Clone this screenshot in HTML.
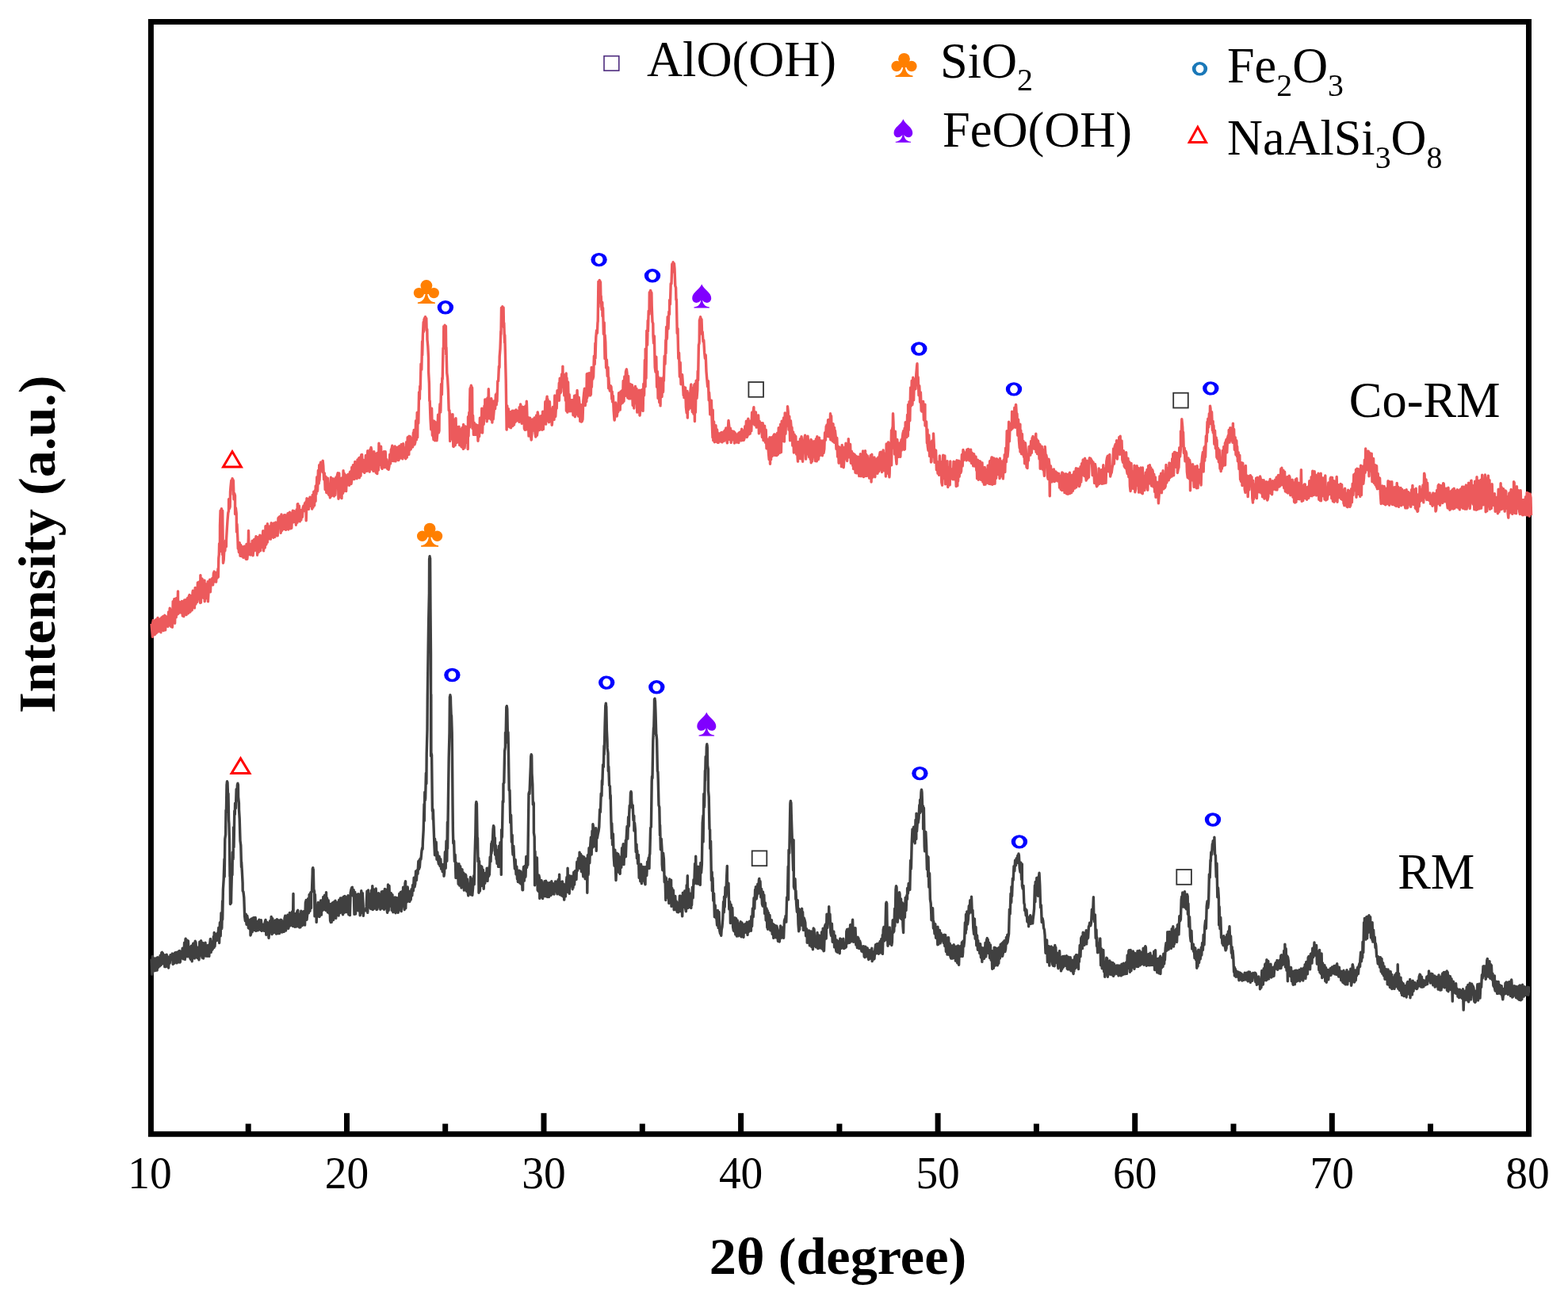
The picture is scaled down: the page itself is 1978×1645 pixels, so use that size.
<!DOCTYPE html>
<html><head><meta charset="utf-8"><style>
html,body{margin:0;padding:0;background:#fff;overflow:hidden;}
svg{display:block;}
text{font-family:"Liberation Serif","Times New Roman",serif;fill:#000;}
</style></head><body>
<svg width="1978" height="1645" viewBox="0 0 1978 1645">
<rect x="0" y="0" width="1978" height="1645" fill="#fff"/>
<rect x="190.4" y="27.5" width="1738.1" height="1403.2" fill="none" stroke="#000" stroke-width="7"/>
<line x1="437.5" y1="1404.2" x2="437.5" y2="1428" stroke="#000" stroke-width="7"/>
<line x1="686.0" y1="1404.2" x2="686.0" y2="1428" stroke="#000" stroke-width="7"/>
<line x1="934.6" y1="1404.2" x2="934.6" y2="1428" stroke="#000" stroke-width="7"/>
<line x1="1183.1" y1="1404.2" x2="1183.1" y2="1428" stroke="#000" stroke-width="7"/>
<line x1="1431.7" y1="1404.2" x2="1431.7" y2="1428" stroke="#000" stroke-width="7"/>
<line x1="1680.3" y1="1404.2" x2="1680.3" y2="1428" stroke="#000" stroke-width="7"/>
<line x1="313.2" y1="1417.6" x2="313.2" y2="1428" stroke="#000" stroke-width="7"/>
<line x1="561.7" y1="1417.6" x2="561.7" y2="1428" stroke="#000" stroke-width="7"/>
<line x1="810.3" y1="1417.6" x2="810.3" y2="1428" stroke="#000" stroke-width="7"/>
<line x1="1058.9" y1="1417.6" x2="1058.9" y2="1428" stroke="#000" stroke-width="7"/>
<line x1="1307.4" y1="1417.6" x2="1307.4" y2="1428" stroke="#000" stroke-width="7"/>
<line x1="1556.0" y1="1417.6" x2="1556.0" y2="1428" stroke="#000" stroke-width="7"/>
<line x1="1804.5" y1="1417.6" x2="1804.5" y2="1428" stroke="#000" stroke-width="7"/>
<path d="M191.0,1209.6 L191.8,1229.1 L192.5,1206.4 L192.6,1227.1 L193.4,1223.8 L194.2,1221.3 L195.0,1209.0 L195.8,1224.5 L196.6,1209.9 L197.4,1218.2 L197.8,1208.3 L198.2,1224.0 L199.0,1207.6 L199.8,1220.2 L200.6,1210.1 L201.4,1218.8 L202.2,1205.2 L203.0,1217.5 L203.8,1201.8 L204.4,1201.4 L204.6,1216.0 L205.4,1202.5 L206.2,1215.3 L207.0,1204.7 L207.8,1219.6 L208.6,1204.9 L209.4,1219.5 L210.2,1204.2 L211.0,1216.9 L211.8,1206.9 L212.6,1221.0 L213.4,1207.9 L214.2,1215.0 L215.0,1204.7 L215.8,1205.7 L216.6,1205.5 L217.4,1203.1 L218.2,1216.3 L219.0,1204.0 L219.8,1215.1 L220.6,1201.9 L220.8,1213.7 L221.4,1205.2 L222.2,1201.5 L223.0,1214.9 L223.8,1210.9 L224.6,1200.6 L225.4,1213.9 L226.2,1199.4 L227.0,1214.0 L227.4,1213.2 L227.8,1200.2 L228.6,1208.3 L229.4,1208.6 L230.2,1196.1 L231.0,1209.7 L231.8,1208.2 L232.6,1189.1 L233.4,1210.4 L234.0,1185.0 L234.2,1184.2 L235.0,1206.1 L235.8,1185.9 L236.6,1206.9 L237.4,1187.0 L238.2,1205.6 L239.0,1194.8 L239.8,1208.5 L240.6,1210.2 L241.4,1193.1 L242.2,1212.8 L243.0,1194.2 L243.8,1190.1 L244.6,1190.3 L245.4,1209.0 L246.2,1187.3 L247.0,1189.0 L247.8,1204.3 L248.6,1208.2 L249.4,1195.2 L250.2,1208.0 L251.0,1210.8 L251.8,1188.3 L252.6,1205.2 L253.4,1194.5 L253.6,1186.7 L254.2,1193.7 L255.0,1208.1 L255.8,1189.4 L256.6,1209.0 L257.4,1190.6 L258.2,1205.4 L259.0,1189.2 L259.8,1206.1 L260.6,1192.7 L261.4,1206.2 L261.8,1203.1 L262.2,1192.4 L263.0,1194.0 L263.8,1206.4 L264.6,1191.6 L265.4,1184.5 L266.2,1201.4 L267.0,1187.6 L267.8,1198.0 L268.6,1196.0 L269.4,1181.4 L270.0,1195.4 L270.2,1176.4 L271.0,1193.6 L271.8,1180.5 L272.6,1178.4 L273.4,1186.5 L274.2,1177.1 L275.0,1179.2 L275.8,1170.2 L276.6,1189.5 L277.4,1163.8 L278.2,1180.8 L279.0,1151.6 L279.8,1171.4 L280.6,1136.6 L280.7,1160.0 L281.4,1122.0 L282.2,1109.2 L283.0,1083.6 L283.2,1106.0 L283.8,1058.5 L284.6,1052.7 L285.0,1021.9 L285.4,1024.9 L286.0,989.5 L286.2,992.9 L286.2,988.1 L286.5,985.7 L286.8,988.0 L287.0,987.0 L287.8,1011.4 L288.0,1001.1 L288.6,1034.6 L288.9,1039.0 L289.4,1059.7 L290.0,1105.8 L290.2,1100.3 L290.5,1140.5 L290.8,1139.3 L291.0,1137.7 L291.2,1139.5 L291.5,1139.1 L291.8,1125.2 L292.6,1095.6 L293.0,1103.8 L293.4,1075.0 L294.2,1083.7 L294.5,1043.7 L295.0,1068.7 L295.8,1022.9 L296.3,1027.4 L296.6,1013.3 L297.4,1019.5 L298.2,995.4 L298.5,1003.7 L299.0,999.1 L299.4,989.7 L299.6,989.8 L299.8,994.2 L299.9,988.1 L300.1,989.4 L300.4,990.5 L300.6,1005.3 L301.4,1013.1 L301.5,1021.3 L302.2,1032.7 L302.9,1056.4 L303.0,1060.6 L303.8,1066.4 L304.5,1093.7 L304.6,1087.1 L305.4,1100.5 L306.1,1114.1 L306.2,1123.8 L307.0,1125.2 L307.8,1132.2 L308.6,1155.5 L309.4,1161.8 L310.2,1153.2 L311.0,1166.2 L311.8,1155.3 L312.6,1160.4 L313.4,1170.7 L314.2,1161.4 L315.0,1171.8 L315.8,1160.0 L316.0,1180.0 L316.6,1178.3 L317.4,1159.0 L318.2,1175.6 L319.0,1158.5 L319.8,1157.6 L320.6,1157.7 L321.4,1173.6 L322.2,1157.5 L323.0,1174.3 L323.8,1172.1 L324.2,1162.5 L324.6,1172.9 L325.4,1173.6 L326.2,1162.0 L327.0,1160.2 L327.8,1169.4 L328.6,1173.2 L329.4,1160.8 L330.2,1174.3 L331.0,1172.3 L331.8,1166.1 L332.4,1173.6 L332.6,1166.8 L333.4,1174.2 L334.2,1163.7 L335.0,1160.4 L335.8,1179.2 L336.6,1163.1 L337.4,1176.8 L338.2,1164.2 L339.0,1183.3 L339.8,1173.9 L340.6,1161.7 L341.4,1172.3 L342.2,1156.4 L343.0,1178.6 L343.8,1158.6 L344.6,1174.1 L345.4,1176.7 L346.2,1162.6 L347.0,1175.5 L347.2,1161.0 L347.8,1173.6 L348.6,1178.1 L349.4,1159.6 L350.2,1164.9 L351.0,1177.6 L351.8,1161.0 L352.6,1177.5 L353.4,1162.6 L353.7,1175.4 L354.2,1160.3 L355.0,1160.6 L355.8,1176.0 L356.6,1175.7 L357.4,1162.1 L358.2,1175.3 L359.0,1158.3 L359.8,1155.2 L360.6,1174.0 L361.4,1157.0 L362.2,1158.7 L363.0,1154.3 L363.8,1171.3 L364.6,1166.9 L365.4,1151.5 L366.2,1167.7 L367.0,1154.5 L367.8,1162.4 L368.6,1150.0 L369.4,1168.4 L370.0,1127.4 L370.2,1162.8 L371.0,1153.2 L371.8,1169.2 L372.6,1152.6 L373.4,1169.1 L374.2,1153.5 L375.0,1149.3 L375.8,1148.4 L376.6,1169.0 L377.4,1154.8 L377.9,1170.0 L378.2,1153.1 L379.0,1169.8 L379.8,1149.2 L380.6,1163.2 L381.4,1167.6 L382.2,1164.7 L383.0,1149.7 L383.8,1165.4 L384.6,1167.0 L385.4,1138.6 L386.2,1135.6 L387.0,1160.2 L387.7,1153.8 L387.8,1137.6 L388.6,1133.8 L389.4,1151.8 L390.2,1128.4 L391.0,1149.2 L391.8,1125.9 L392.5,1145.6 L392.6,1125.1 L393.4,1125.0 L394.2,1102.5 L394.3,1095.7 L394.6,1095.7 L394.8,1094.6 L395.0,1099.0 L395.1,1096.7 L395.3,1096.9 L395.8,1121.6 L396.6,1124.7 L397.0,1155.9 L397.4,1128.4 L398.2,1151.6 L399.0,1141.9 L399.2,1163.4 L399.8,1145.4 L400.6,1154.0 L401.4,1138.4 L402.2,1156.2 L403.0,1156.5 L403.8,1153.7 L404.6,1135.9 L405.4,1154.1 L406.2,1135.8 L407.0,1148.4 L407.8,1131.4 L408.6,1147.4 L409.4,1129.5 L410.2,1142.3 L411.0,1148.5 L411.5,1125.8 L411.8,1140.3 L412.6,1133.0 L413.4,1150.9 L414.2,1135.6 L415.0,1151.9 L415.8,1142.1 L416.6,1161.4 L417.3,1163.4 L417.4,1140.2 L418.2,1163.4 L419.0,1141.4 L419.8,1138.8 L420.6,1160.5 L421.4,1137.7 L422.2,1158.1 L423.0,1136.1 L423.8,1158.4 L424.6,1140.3 L425.4,1151.5 L426.2,1138.2 L427.0,1137.6 L427.1,1155.1 L427.8,1135.1 L428.6,1151.7 L429.4,1132.9 L430.2,1149.1 L431.0,1133.0 L431.8,1151.9 L432.6,1153.7 L433.4,1131.2 L434.2,1151.4 L435.0,1130.5 L435.8,1148.7 L436.1,1135.4 L436.6,1150.5 L437.4,1131.8 L438.2,1150.9 L439.0,1129.8 L439.8,1153.7 L440.6,1134.0 L441.4,1154.6 L442.2,1126.2 L443.0,1122.0 L443.8,1119.8 L444.4,1119.2 L444.6,1124.5 L445.4,1130.3 L446.2,1122.7 L447.0,1153.4 L447.8,1125.5 L448.6,1153.0 L449.4,1128.4 L450.2,1142.5 L451.0,1133.6 L451.7,1148.7 L451.8,1127.7 L452.6,1147.2 L453.4,1128.3 L454.2,1154.9 L455.0,1147.4 L455.8,1123.8 L456.6,1151.5 L457.4,1126.8 L458.2,1143.3 L458.3,1155.2 L459.0,1148.5 L459.8,1148.0 L460.6,1147.4 L461.4,1148.7 L462.2,1143.4 L463.0,1124.1 L463.8,1151.4 L464.6,1122.9 L465.4,1140.1 L466.2,1127.8 L467.0,1144.8 L467.8,1146.6 L468.6,1123.0 L469.4,1143.1 L469.8,1117.6 L470.2,1147.6 L471.0,1121.7 L471.8,1146.3 L472.6,1122.8 L473.4,1143.8 L474.2,1121.0 L475.0,1147.5 L475.8,1147.2 L476.6,1143.3 L477.4,1126.7 L478.2,1143.6 L479.0,1143.0 L479.6,1132.4 L479.8,1147.3 L480.6,1128.3 L481.4,1124.9 L482.2,1145.9 L483.0,1124.4 L483.8,1143.7 L484.6,1147.3 L485.4,1121.4 L486.2,1142.7 L487.0,1122.1 L487.8,1145.1 L488.6,1151.4 L489.4,1147.9 L489.5,1115.9 L490.2,1148.5 L491.0,1117.5 L491.8,1141.2 L492.6,1143.1 L493.4,1126.7 L494.2,1148.4 L495.0,1128.6 L495.8,1150.7 L496.6,1133.9 L497.4,1148.2 L498.2,1132.0 L499.0,1151.7 L499.3,1134.6 L499.8,1132.4 L500.6,1145.0 L501.4,1133.0 L502.2,1151.4 L503.0,1143.1 L503.8,1127.3 L504.6,1147.7 L505.4,1125.5 L506.2,1149.6 L507.0,1124.7 L507.8,1142.8 L508.6,1119.2 L509.4,1141.1 L510.2,1147.5 L511.0,1114.1 L511.6,1111.8 L511.8,1145.7 L512.6,1119.1 L513.4,1137.7 L514.2,1119.0 L515.0,1134.3 L515.8,1124.1 L516.6,1137.4 L517.4,1135.8 L517.6,1124.7 L518.2,1134.8 L519.0,1121.8 L519.8,1129.9 L520.6,1116.4 L521.4,1123.6 L522.2,1107.1 L523.0,1118.9 L523.8,1115.0 L524.6,1098.9 L525.4,1110.4 L526.2,1097.8 L527.0,1102.3 L527.8,1086.5 L528.6,1096.3 L529.1,1084.8 L529.4,1094.2 L530.2,1083.0 L531.0,1083.9 L531.8,1075.2 L532.1,1072.3 L532.4,1071.9 L532.6,1069.8 L532.9,1071.3 L533.1,1071.0 L533.4,1061.3 L534.2,1047.5 L535.0,1014.5 L535.3,1035.6 L535.8,999.3 L536.6,1009.0 L537.4,975.3 L537.9,988.5 L538.2,950.7 L539.0,920.6 L539.3,878.1 L539.8,843.5 L540.6,785.8 L541.4,748.4 L541.6,705.0 L541.9,703.6 L542.1,701.7 L542.2,709.0 L542.4,703.7 L542.6,704.6 L543.0,767.6 L543.5,825.3 L543.6,953.8 L543.8,876.1 L543.9,951.4 L544.1,949.9 L544.4,952.0 L544.6,952.0 L545.4,1023.1 L545.6,1022.4 L545.9,1020.4 L546.1,1021.9 L546.2,1033.6 L546.4,1021.7 L547.0,1040.6 L547.8,1062.8 L548.5,1078.7 L548.6,1058.3 L549.4,1076.5 L550.2,1062.3 L551.0,1084.3 L551.8,1075.0 L552.6,1085.1 L553.4,1090.0 L553.8,1080.2 L554.2,1080.8 L555.0,1092.5 L555.8,1083.7 L556.6,1096.1 L557.4,1090.3 L558.2,1099.6 L559.0,1091.0 L559.8,1092.8 L560.0,1105.2 L560.6,1101.0 L561.4,1074.7 L562.2,1095.3 L563.0,1061.0 L563.8,1086.2 L564.4,1037.3 L564.6,1070.4 L565.4,1011.2 L566.2,955.4 L567.0,924.1 L567.4,879.1 L567.6,878.8 L567.8,881.1 L567.9,876.7 L568.1,878.6 L568.4,879.0 L568.6,887.9 L569.4,909.3 L569.5,902.5 L570.2,924.8 L570.5,954.1 L571.0,1011.7 L571.4,1047.7 L571.8,1063.7 L572.6,1060.8 L573.4,1086.5 L574.2,1078.2 L575.0,1107.5 L575.8,1088.6 L576.6,1104.0 L577.4,1094.9 L578.2,1115.3 L579.0,1089.7 L579.8,1117.1 L580.6,1092.7 L581.4,1102.2 L582.0,1120.0 L582.2,1097.8 L583.0,1096.8 L583.8,1117.5 L584.6,1100.9 L585.4,1123.1 L586.2,1105.5 L587.0,1103.0 L587.8,1104.3 L588.6,1124.3 L589.4,1108.9 L590.2,1125.8 L590.8,1129.9 L591.0,1123.1 L591.8,1115.0 L592.6,1126.7 L593.4,1106.5 L594.2,1128.8 L595.0,1108.8 L595.8,1129.3 L596.6,1120.1 L597.4,1106.1 L597.9,1104.5 L598.2,1115.7 L599.0,1079.6 L599.5,1062.2 L599.8,1053.4 L600.4,1014.5 L600.6,1023.6 L600.6,1012.9 L600.9,1011.6 L601.1,1012.9 L601.4,1013.6 L602.2,1064.8 L602.5,1057.1 L603.0,1086.6 L603.8,1082.7 L604.0,1126.3 L604.6,1086.4 L605.4,1124.0 L606.2,1092.3 L607.0,1117.6 L607.8,1093.2 L608.6,1100.3 L609.4,1097.3 L610.2,1121.2 L611.0,1102.4 L611.8,1114.2 L612.6,1101.2 L613.4,1109.8 L614.2,1095.2 L615.0,1111.4 L615.8,1098.4 L616.6,1105.3 L617.3,1093.0 L617.4,1103.4 L618.2,1081.1 L619.0,1086.9 L619.8,1064.3 L620.0,1076.5 L620.6,1061.5 L620.8,1073.3 L621.4,1061.6 L622.1,1045.0 L622.2,1046.0 L622.4,1042.9 L622.6,1041.6 L622.9,1042.8 L623.0,1051.8 L623.1,1042.9 L623.8,1061.7 L624.4,1056.9 L624.6,1078.3 L625.4,1066.5 L626.1,1084.0 L626.2,1073.0 L627.0,1089.3 L627.8,1072.4 L628.6,1093.4 L629.4,1067.2 L630.2,1093.4 L631.0,1062.8 L631.8,1066.4 L632.3,1103.4 L632.6,1046.6 L633.4,1056.2 L634.2,1010.7 L634.9,1011.8 L635.0,988.6 L635.8,987.4 L636.6,947.6 L637.4,942.6 L637.5,924.4 L638.2,924.1 L638.8,891.8 L639.0,897.8 L639.0,892.1 L639.3,890.7 L639.5,892.6 L639.8,894.2 L640.6,937.1 L641.0,923.7 L641.4,944.5 L642.2,996.7 L642.8,996.6 L643.0,997.2 L643.8,1037.8 L644.6,1028.3 L645.4,1062.1 L646.2,1053.5 L646.4,1069.7 L647.0,1078.2 L647.8,1067.2 L648.6,1083.4 L649.4,1095.8 L650.2,1084.5 L651.0,1103.0 L651.8,1093.1 L652.5,1108.9 L652.6,1097.8 L653.4,1112.5 L654.2,1109.9 L655.0,1098.3 L655.8,1114.0 L656.6,1099.2 L657.4,1115.1 L658.2,1102.9 L659.0,1122.8 L659.6,1122.8 L659.8,1103.2 L660.6,1093.5 L661.4,1111.1 L662.2,1092.5 L663.0,1106.2 L663.8,1080.5 L664.6,1094.3 L665.4,1080.2 L665.8,1091.2 L666.2,1060.7 L667.0,1001.2 L667.2,1000.8 L667.5,999.2 L667.8,1000.6 L667.8,1001.7 L668.0,1001.1 L668.6,985.9 L669.4,966.5 L669.7,954.9 L670.0,953.4 L670.2,951.6 L670.5,953.0 L670.7,952.9 L671.0,975.5 L671.8,989.4 L672.3,1015.0 L672.5,1013.7 L672.6,1012.6 L672.8,1011.6 L673.0,1013.8 L673.3,1013.3 L673.4,1050.5 L674.2,1055.7 L674.6,1116.7 L675.0,1074.0 L675.8,1109.4 L676.6,1102.9 L677.4,1082.0 L678.2,1122.9 L679.0,1124.1 L679.8,1104.1 L680.6,1107.8 L680.8,1133.4 L681.4,1110.6 L682.2,1131.8 L683.0,1110.7 L683.8,1114.7 L684.6,1133.5 L685.4,1115.9 L686.2,1126.0 L687.0,1111.7 L687.8,1130.7 L688.6,1111.2 L689.4,1125.4 L690.2,1113.2 L690.6,1131.6 L691.0,1114.7 L691.8,1127.4 L692.6,1131.5 L693.4,1113.4 L694.2,1129.2 L695.0,1129.5 L695.8,1111.7 L696.6,1127.7 L697.4,1114.5 L698.2,1124.1 L699.0,1128.1 L699.4,1116.1 L699.8,1124.5 L700.6,1112.0 L701.4,1114.1 L702.2,1123.7 L703.0,1127.8 L703.8,1110.9 L704.6,1109.2 L705.4,1125.1 L705.6,1103.3 L706.2,1128.7 L707.0,1127.8 L707.8,1112.7 L708.6,1129.9 L709.4,1111.9 L710.2,1130.9 L711.0,1115.2 L711.7,1135.1 L711.8,1133.5 L712.6,1119.4 L713.4,1130.9 L714.2,1115.7 L715.0,1106.4 L715.8,1123.3 L716.1,1095.3 L716.6,1125.4 L717.4,1104.3 L718.2,1127.3 L719.0,1105.3 L719.8,1117.8 L720.6,1105.3 L721.4,1107.3 L722.2,1121.7 L722.3,1106.9 L723.0,1120.0 L723.8,1100.3 L724.6,1116.0 L725.4,1098.7 L726.2,1107.3 L727.0,1109.4 L727.8,1087.3 L728.6,1098.1 L729.4,1082.6 L730.2,1094.9 L731.0,1080.1 L731.1,1075.1 L731.8,1095.5 L732.6,1077.5 L733.4,1099.5 L734.2,1079.7 L735.0,1097.6 L735.8,1105.8 L736.6,1081.0 L737.4,1087.0 L738.2,1108.7 L739.0,1083.3 L739.8,1107.0 L740.6,1087.6 L740.8,1126.3 L741.4,1078.6 L742.2,1103.4 L743.0,1069.7 L743.8,1088.7 L744.6,1068.1 L745.4,1056.3 L746.2,1078.0 L747.0,1048.2 L747.8,1069.1 L747.9,1039.8 L748.6,1043.5 L749.4,1064.7 L750.2,1045.0 L751.0,1068.0 L751.8,1044.6 L752.3,1073.4 L752.6,1051.4 L753.4,1057.2 L754.2,1052.5 L755.0,1048.9 L755.8,1043.1 L756.6,1021.7 L756.7,1021.2 L757.4,1024.5 L758.2,1001.0 L759.0,1004.0 L759.4,984.8 L759.8,990.0 L760.6,964.6 L761.4,967.4 L762.0,940.8 L762.2,951.7 L763.0,917.5 L763.8,889.9 L764.0,889.7 L764.3,887.3 L764.5,889.2 L764.6,900.5 L764.8,891.1 L765.4,921.1 L766.0,933.6 L766.2,943.9 L767.0,949.9 L767.3,972.7 L767.8,967.0 L768.6,990.8 L769.4,991.6 L769.9,1007.8 L770.2,1003.3 L771.0,1037.8 L771.7,1057.8 L771.8,1038.6 L772.6,1065.7 L773.4,1052.0 L774.2,1080.7 L775.0,1092.2 L775.8,1072.1 L776.6,1097.4 L777.0,1110.5 L777.4,1101.0 L778.2,1076.1 L779.0,1100.0 L779.8,1077.5 L780.6,1081.3 L781.4,1100.9 L782.2,1102.3 L782.3,1094.5 L783.0,1081.0 L783.8,1094.3 L784.6,1069.6 L785.4,1073.8 L786.2,1064.8 L787.0,1090.6 L787.8,1069.1 L788.6,1080.6 L789.3,1060.0 L789.4,1080.7 L790.2,1056.9 L791.0,1042.5 L791.8,1058.1 L792.6,1030.7 L793.4,1042.2 L793.7,1026.6 L794.2,1016.4 L795.0,1015.4 L795.5,999.9 L795.8,1000.9 L795.8,1002.0 L796.0,998.4 L796.2,999.5 L796.5,1000.6 L796.6,1009.0 L797.4,1018.8 L798.2,1015.8 L799.0,1034.8 L799.8,1029.2 L799.9,1048.0 L800.6,1038.3 L801.4,1047.0 L802.2,1074.8 L803.0,1065.1 L803.4,1082.7 L803.8,1073.0 L804.6,1089.5 L805.4,1078.4 L806.2,1107.4 L807.0,1092.3 L807.8,1111.7 L808.6,1090.2 L809.4,1114.6 L810.2,1093.2 L811.0,1111.1 L811.8,1110.5 L812.6,1093.7 L813.4,1114.0 L814.0,1115.7 L814.2,1100.9 L815.0,1093.5 L815.8,1104.5 L816.6,1087.1 L817.4,1088.4 L818.2,1082.2 L819.0,1095.5 L819.3,1078.5 L819.8,1077.5 L820.6,1044.5 L821.4,1043.1 L822.2,985.7 L822.5,979.4 L823.0,981.6 L823.8,934.5 L824.5,917.9 L824.6,925.8 L825.4,893.1 L825.5,882.2 L825.8,883.3 L826.0,881.1 L826.2,884.5 L826.2,883.1 L826.5,885.0 L827.0,899.3 L827.8,928.1 L828.0,926.6 L828.6,933.1 L829.4,972.6 L829.9,973.7 L830.2,982.5 L831.0,1015.8 L831.8,1018.2 L832.5,1053.7 L832.6,1040.9 L833.4,1071.7 L834.2,1058.1 L835.0,1071.4 L835.2,1090.7 L835.8,1097.7 L836.6,1076.3 L837.4,1083.8 L838.2,1112.8 L839.0,1105.6 L839.8,1135.5 L840.5,1107.7 L840.6,1132.8 L841.4,1130.8 L842.2,1130.5 L843.0,1112.5 L843.8,1139.5 L844.6,1109.0 L845.4,1135.9 L846.2,1117.4 L846.6,1110.3 L847.0,1143.4 L847.8,1120.5 L848.6,1140.1 L849.4,1123.0 L850.2,1147.7 L851.0,1146.9 L851.8,1130.4 L852.6,1147.5 L853.2,1137.0 L853.4,1147.3 L854.2,1150.4 L855.0,1138.9 L855.8,1150.8 L856.6,1148.8 L857.4,1130.2 L858.2,1130.3 L859.0,1149.7 L859.8,1133.5 L860.6,1155.3 L860.7,1155.9 L861.4,1126.1 L862.2,1144.5 L863.0,1129.4 L863.8,1123.9 L864.6,1145.5 L865.4,1149.8 L866.2,1116.6 L867.0,1117.9 L867.3,1104.7 L867.8,1145.5 L868.6,1121.5 L869.4,1140.2 L870.2,1126.9 L871.0,1144.8 L871.8,1145.4 L872.0,1129.5 L872.6,1141.8 L873.4,1119.3 L874.2,1132.7 L875.0,1109.6 L875.8,1115.0 L876.6,1089.4 L877.4,1104.6 L877.7,1080.2 L878.2,1112.3 L879.0,1114.8 L879.8,1109.1 L880.6,1093.2 L881.4,1115.1 L882.2,1093.9 L883.0,1113.6 L883.3,1116.3 L883.8,1088.4 L884.6,1100.8 L885.4,1089.9 L886.2,1038.2 L887.0,1028.7 L887.1,1062.1 L887.8,1001.5 L888.6,1017.9 L889.4,972.0 L889.5,984.7 L890.2,954.4 L891.0,959.2 L891.3,942.2 L891.5,941.2 L891.8,938.8 L892.0,940.6 L892.3,942.8 L892.6,965.7 L893.4,970.6 L893.5,997.1 L894.2,1004.8 L895.0,1045.7 L895.6,1046.8 L895.8,1070.6 L896.6,1061.1 L897.4,1110.5 L898.2,1100.2 L898.4,1123.8 L899.0,1107.4 L899.8,1136.2 L900.6,1127.1 L901.4,1156.6 L902.2,1141.9 L903.0,1157.9 L903.8,1156.5 L904.6,1167.1 L905.4,1148.4 L906.2,1170.6 L907.0,1150.5 L907.8,1174.2 L908.6,1177.9 L909.4,1178.1 L909.7,1180.4 L910.2,1172.8 L911.0,1169.2 L911.8,1158.8 L912.6,1137.4 L913.4,1150.7 L913.5,1131.3 L914.2,1144.3 L915.0,1119.3 L915.8,1131.4 L916.6,1107.0 L917.3,1092.4 L917.4,1114.7 L918.2,1126.6 L919.0,1114.2 L919.8,1147.0 L920.6,1137.5 L921.0,1140.6 L921.4,1164.5 L922.2,1141.1 L923.0,1162.6 L923.8,1145.2 L924.6,1169.5 L925.4,1174.0 L926.2,1174.7 L927.0,1157.7 L927.8,1178.9 L928.6,1158.6 L929.4,1181.0 L930.2,1160.9 L931.0,1180.8 L931.8,1165.0 L932.6,1166.3 L933.4,1180.1 L934.2,1162.6 L935.0,1181.8 L935.8,1163.9 L936.6,1165.6 L937.4,1180.2 L938.0,1182.3 L938.2,1171.1 L939.0,1176.9 L939.8,1165.7 L940.6,1175.8 L941.4,1176.4 L942.2,1163.1 L943.0,1179.4 L943.8,1166.9 L944.6,1175.3 L945.4,1162.3 L946.2,1172.0 L947.0,1163.2 L947.4,1174.3 L947.8,1156.0 L948.6,1168.5 L949.4,1145.9 L950.2,1156.7 L951.0,1132.8 L951.8,1146.3 L952.6,1122.3 L953.1,1132.9 L953.4,1118.6 L954.2,1134.0 L955.0,1129.4 L955.8,1115.1 L956.6,1127.1 L957.4,1110.0 L957.8,1108.4 L958.2,1123.2 L959.0,1111.8 L959.8,1131.9 L960.6,1121.4 L961.4,1140.2 L962.2,1142.9 L962.5,1125.3 L963.0,1140.6 L963.8,1128.9 L964.6,1152.5 L965.4,1138.9 L966.2,1161.0 L967.0,1145.9 L967.8,1170.1 L968.2,1148.7 L968.6,1172.2 L969.4,1151.5 L970.2,1168.5 L971.0,1154.5 L971.8,1173.7 L972.6,1162.1 L973.4,1160.7 L974.2,1178.3 L975.0,1165.4 L975.7,1179.8 L975.8,1183.4 L976.6,1166.8 L977.4,1179.4 L978.2,1167.7 L979.0,1182.9 L979.8,1168.2 L980.6,1171.9 L981.4,1187.2 L982.2,1174.0 L983.0,1184.1 L983.2,1188.0 L983.8,1183.4 L984.6,1167.9 L985.4,1181.0 L986.2,1183.0 L987.0,1170.0 L987.8,1181.7 L988.6,1183.3 L989.4,1161.7 L990.2,1159.1 L990.8,1160.9 L991.0,1155.4 L991.8,1163.1 L992.6,1132.0 L993.4,1134.6 L994.2,1093.0 L994.5,1134.9 L995.0,1072.2 L995.8,1076.3 L996.6,1029.1 L996.9,1013.6 L997.1,1011.9 L997.4,1010.4 L997.6,1012.9 L997.9,1012.5 L998.2,1026.1 L999.0,1050.1 L999.8,1073.3 L1000.6,1097.9 L1001.1,1059.6 L1001.4,1118.7 L1002.2,1121.2 L1003.0,1108.7 L1003.8,1134.5 L1004.0,1123.6 L1004.6,1140.4 L1005.4,1150.4 L1006.2,1135.6 L1007.0,1165.6 L1007.7,1174.8 L1007.8,1146.5 L1008.6,1172.6 L1009.4,1148.9 L1010.2,1163.0 L1011.0,1147.2 L1011.6,1146.3 L1011.8,1167.4 L1012.6,1150.4 L1013.4,1173.4 L1014.2,1157.9 L1015.0,1160.4 L1015.8,1163.8 L1016.6,1180.7 L1017.4,1171.6 L1018.1,1173.6 L1018.2,1189.2 L1019.0,1177.4 L1019.8,1189.2 L1020.6,1174.0 L1021.4,1192.9 L1022.2,1177.3 L1023.0,1174.9 L1023.8,1194.5 L1024.6,1178.0 L1025.4,1197.8 L1026.2,1171.0 L1026.3,1171.7 L1027.0,1172.2 L1027.8,1188.7 L1028.6,1193.6 L1029.4,1194.8 L1030.2,1190.4 L1031.0,1176.5 L1031.8,1196.6 L1032.6,1179.7 L1033.4,1195.9 L1034.2,1180.4 L1034.5,1194.0 L1035.0,1183.1 L1035.8,1196.0 L1036.6,1175.6 L1037.4,1197.3 L1038.2,1171.1 L1039.0,1199.7 L1039.5,1199.5 L1039.8,1191.0 L1040.6,1168.1 L1041.4,1166.1 L1042.2,1184.0 L1043.0,1153.2 L1043.8,1170.3 L1044.6,1154.7 L1045.4,1163.5 L1045.7,1143.8 L1046.2,1162.5 L1047.0,1153.3 L1047.8,1176.4 L1048.6,1180.5 L1049.4,1165.2 L1050.2,1188.3 L1051.0,1177.9 L1051.8,1175.2 L1052.6,1194.9 L1053.4,1180.3 L1054.2,1194.9 L1055.0,1200.2 L1055.8,1185.9 L1056.6,1201.3 L1057.4,1200.1 L1058.2,1187.5 L1059.0,1189.2 L1059.2,1202.8 L1059.8,1184.0 L1060.6,1184.6 L1061.4,1196.4 L1062.2,1186.4 L1063.0,1193.0 L1063.8,1184.2 L1064.6,1196.6 L1065.4,1191.8 L1066.2,1195.7 L1067.0,1193.9 L1067.4,1194.5 L1067.8,1174.9 L1068.6,1172.4 L1069.4,1189.9 L1070.2,1172.0 L1071.0,1187.8 L1071.8,1189.3 L1072.6,1166.7 L1073.4,1187.9 L1074.2,1166.8 L1075.0,1166.8 L1075.6,1160.3 L1075.8,1166.2 L1076.6,1188.2 L1077.4,1170.8 L1078.2,1188.1 L1079.0,1170.6 L1079.8,1192.0 L1080.6,1182.5 L1081.4,1195.6 L1082.1,1182.3 L1082.2,1192.8 L1083.0,1183.7 L1083.8,1196.6 L1084.6,1186.9 L1085.4,1189.9 L1086.2,1197.0 L1087.0,1200.1 L1087.8,1194.3 L1088.6,1200.7 L1089.4,1193.6 L1090.2,1206.8 L1091.0,1207.6 L1091.8,1194.2 L1092.0,1207.0 L1092.6,1196.4 L1093.4,1205.3 L1094.2,1196.0 L1095.0,1207.4 L1095.8,1210.5 L1096.6,1198.7 L1097.4,1209.3 L1098.2,1198.7 L1099.0,1208.5 L1099.8,1196.3 L1100.2,1212.6 L1100.6,1200.1 L1101.4,1209.7 L1102.2,1210.1 L1103.0,1209.5 L1103.8,1198.1 L1104.6,1191.7 L1105.4,1202.9 L1106.2,1190.6 L1107.0,1200.5 L1107.8,1199.7 L1108.4,1203.2 L1108.6,1190.0 L1109.4,1200.2 L1110.2,1187.5 L1111.0,1201.8 L1111.8,1184.4 L1112.6,1199.2 L1113.3,1179.4 L1113.4,1203.4 L1114.2,1173.0 L1115.0,1169.5 L1115.8,1186.8 L1116.5,1171.4 L1116.6,1185.8 L1117.4,1151.5 L1117.7,1139.7 L1118.0,1139.2 L1118.2,1138.1 L1118.5,1139.8 L1118.7,1139.7 L1119.0,1161.1 L1119.8,1187.9 L1120.0,1193.3 L1120.6,1173.4 L1121.4,1184.8 L1122.2,1169.9 L1123.0,1190.8 L1123.8,1188.3 L1124.6,1176.3 L1124.8,1192.6 L1125.4,1188.5 L1126.2,1160.7 L1127.0,1176.1 L1127.8,1174.6 L1128.6,1146.2 L1128.8,1168.4 L1129.4,1151.1 L1130.0,1121.4 L1130.2,1126.5 L1130.2,1120.0 L1130.5,1117.6 L1130.8,1118.9 L1131.0,1118.9 L1131.8,1149.2 L1132.3,1163.3 L1132.6,1130.1 L1133.4,1150.6 L1134.2,1133.9 L1134.6,1125.8 L1135.0,1127.9 L1135.8,1158.4 L1136.6,1134.0 L1137.4,1159.7 L1138.2,1138.7 L1139.0,1168.2 L1139.6,1176.5 L1139.8,1162.5 L1140.6,1140.3 L1141.4,1157.3 L1142.2,1132.2 L1143.0,1148.5 L1143.8,1129.5 L1144.5,1134.2 L1144.6,1120.4 L1145.4,1127.1 L1146.2,1114.4 L1147.0,1120.0 L1147.8,1122.5 L1148.6,1085.5 L1149.4,1095.9 L1150.2,1063.0 L1151.0,1046.0 L1151.8,1061.2 L1152.6,1043.2 L1153.4,1053.7 L1154.2,1063.8 L1155.0,1034.3 L1155.8,1058.4 L1156.0,1026.3 L1156.6,1048.6 L1157.4,1036.7 L1158.2,1037.8 L1159.0,1032.3 L1159.8,1015.5 L1160.5,1025.6 L1160.6,1009.0 L1161.4,1014.8 L1162.0,998.8 L1162.2,1002.1 L1162.2,997.5 L1162.5,996.2 L1162.8,998.0 L1163.0,999.6 L1163.8,1024.1 L1164.5,1016.9 L1164.6,1045.8 L1165.4,1019.3 L1166.2,1067.7 L1166.6,1073.8 L1167.0,1072.6 L1167.8,1049.5 L1168.6,1066.6 L1169.4,1096.8 L1170.2,1080.3 L1170.7,1105.8 L1171.0,1081.1 L1171.8,1119.1 L1172.6,1101.8 L1173.4,1134.5 L1174.2,1139.5 L1174.8,1153.1 L1175.0,1160.7 L1175.8,1152.3 L1176.6,1145.8 L1177.4,1171.0 L1177.7,1162.2 L1178.2,1166.9 L1179.0,1177.8 L1179.8,1165.7 L1180.6,1183.2 L1181.4,1169.8 L1182.2,1175.9 L1182.8,1191.7 L1183.0,1169.2 L1183.8,1191.2 L1184.6,1173.5 L1185.4,1173.5 L1186.2,1189.8 L1187.0,1177.2 L1187.8,1186.8 L1188.6,1181.6 L1188.8,1181.4 L1189.1,1179.8 L1189.3,1182.2 L1189.4,1180.3 L1189.6,1182.1 L1190.2,1189.4 L1191.0,1179.3 L1191.8,1193.5 L1192.6,1179.5 L1193.4,1200.5 L1194.2,1188.3 L1195.0,1204.1 L1195.5,1183.0 L1195.8,1198.8 L1196.6,1182.8 L1197.4,1204.5 L1198.2,1190.2 L1199.0,1207.2 L1199.8,1209.1 L1200.6,1192.9 L1201.4,1209.1 L1202.2,1198.1 L1203.0,1205.3 L1203.2,1191.7 L1203.8,1208.4 L1204.6,1194.3 L1205.4,1212.1 L1206.2,1193.9 L1207.0,1211.5 L1207.8,1214.8 L1208.6,1193.0 L1209.4,1199.8 L1209.6,1217.2 L1210.2,1199.3 L1211.0,1196.1 L1211.8,1193.5 L1212.6,1206.3 L1213.4,1188.8 L1214.2,1206.5 L1214.7,1201.0 L1215.0,1187.0 L1215.8,1194.1 L1216.6,1186.6 L1217.4,1163.7 L1218.2,1177.3 L1218.5,1153.4 L1219.0,1172.7 L1219.8,1149.9 L1220.6,1166.1 L1221.4,1159.5 L1222.2,1144.3 L1222.3,1142.8 L1223.0,1152.0 L1223.8,1135.6 L1224.6,1148.3 L1225.4,1148.3 L1225.5,1131.3 L1226.2,1151.2 L1227.0,1148.4 L1227.8,1170.6 L1228.6,1178.2 L1229.3,1159.2 L1229.4,1159.1 L1230.2,1184.2 L1231.0,1169.4 L1231.8,1192.8 L1232.6,1180.0 L1233.4,1198.3 L1233.8,1186.5 L1234.2,1196.6 L1235.0,1190.7 L1235.8,1202.6 L1236.6,1190.6 L1237.4,1207.9 L1238.2,1195.2 L1238.9,1213.4 L1239.0,1196.4 L1239.8,1208.4 L1240.6,1196.0 L1241.4,1209.4 L1242.2,1206.3 L1243.0,1189.3 L1243.8,1206.7 L1244.6,1185.9 L1245.3,1183.6 L1245.4,1200.5 L1246.2,1185.1 L1247.0,1202.5 L1247.8,1189.2 L1248.6,1208.5 L1249.4,1192.0 L1250.2,1211.2 L1251.0,1199.4 L1251.7,1222.3 L1251.8,1221.8 L1252.6,1203.4 L1253.4,1221.3 L1254.2,1195.2 L1255.0,1218.2 L1255.8,1195.6 L1256.6,1211.7 L1257.4,1196.6 L1258.2,1217.9 L1259.0,1212.9 L1259.3,1195.9 L1259.8,1215.2 L1260.6,1195.0 L1261.4,1209.0 L1262.2,1191.4 L1263.0,1203.6 L1263.8,1190.0 L1264.6,1206.3 L1265.4,1202.0 L1265.7,1188.3 L1266.2,1200.5 L1267.0,1186.6 L1267.8,1200.5 L1268.6,1197.0 L1269.4,1182.5 L1270.2,1190.3 L1270.8,1179.3 L1271.0,1188.7 L1271.8,1182.8 L1272.6,1178.0 L1273.4,1147.1 L1274.2,1152.9 L1275.0,1127.2 L1275.8,1138.4 L1275.9,1118.8 L1276.6,1130.5 L1277.4,1108.3 L1278.2,1110.1 L1279.0,1092.7 L1279.8,1098.9 L1280.6,1085.3 L1281.4,1091.9 L1282.2,1082.6 L1283.0,1088.5 L1283.8,1079.2 L1284.6,1087.3 L1284.9,1077.0 L1285.4,1079.0 L1286.2,1094.7 L1287.0,1100.3 L1287.8,1088.2 L1288.6,1109.4 L1289.3,1089.9 L1289.4,1117.5 L1290.2,1121.1 L1291.0,1117.3 L1291.8,1139.0 L1292.5,1141.5 L1292.6,1148.4 L1293.4,1146.4 L1294.2,1154.9 L1295.0,1148.0 L1295.8,1162.4 L1296.6,1163.5 L1297.4,1157.6 L1297.6,1168.7 L1298.2,1158.3 L1299.0,1156.5 L1299.8,1154.7 L1300.6,1165.3 L1301.4,1157.2 L1302.2,1157.2 L1302.7,1164.9 L1303.0,1160.4 L1303.8,1154.3 L1304.6,1146.0 L1305.4,1117.0 L1305.9,1137.8 L1306.2,1112.5 L1307.0,1125.1 L1307.8,1107.4 L1308.6,1107.3 L1309.4,1130.3 L1310.2,1110.2 L1311.0,1101.3 L1311.8,1117.1 L1312.6,1144.8 L1313.4,1142.0 L1314.2,1163.4 L1315.0,1158.5 L1315.8,1161.7 L1316.6,1170.8 L1317.4,1172.6 L1318.1,1179.9 L1318.2,1183.0 L1319.0,1202.2 L1319.8,1189.6 L1320.6,1186.0 L1321.4,1213.6 L1322.2,1194.5 L1323.0,1209.9 L1323.2,1193.6 L1323.8,1218.1 L1324.6,1198.3 L1325.4,1210.8 L1326.2,1193.9 L1327.0,1210.4 L1327.8,1216.6 L1328.6,1218.3 L1329.4,1195.1 L1330.2,1218.8 L1330.8,1192.5 L1331.0,1199.6 L1331.8,1195.2 L1332.6,1214.3 L1333.4,1202.1 L1334.2,1216.4 L1335.0,1221.8 L1335.8,1203.6 L1336.6,1199.7 L1337.4,1215.5 L1338.2,1207.5 L1338.5,1224.9 L1339.0,1221.4 L1339.8,1222.5 L1340.6,1206.5 L1341.4,1220.0 L1342.2,1216.5 L1342.7,1206.1 L1343.0,1215.1 L1343.8,1207.5 L1344.6,1218.4 L1345.4,1205.8 L1346.2,1221.9 L1347.0,1222.6 L1347.8,1207.1 L1348.6,1222.8 L1349.4,1219.5 L1350.2,1207.7 L1351.0,1224.7 L1351.8,1210.9 L1352.6,1224.9 L1353.4,1225.1 L1354.1,1228.5 L1354.2,1210.9 L1355.0,1224.9 L1355.8,1206.6 L1356.6,1221.4 L1357.4,1204.7 L1358.2,1204.8 L1359.0,1220.1 L1359.8,1205.8 L1360.5,1222.5 L1360.6,1204.6 L1361.4,1213.3 L1362.2,1192.4 L1363.0,1206.8 L1363.8,1183.3 L1364.4,1195.5 L1364.6,1181.4 L1365.4,1196.6 L1366.2,1176.2 L1367.0,1177.8 L1367.8,1192.3 L1368.6,1176.9 L1369.4,1189.0 L1370.2,1173.6 L1370.7,1190.9 L1371.0,1177.1 L1371.8,1184.0 L1372.6,1183.1 L1373.4,1168.9 L1374.2,1167.2 L1374.6,1164.3 L1375.0,1166.1 L1375.8,1167.7 L1376.6,1163.5 L1377.4,1147.3 L1378.2,1158.9 L1379.0,1141.5 L1379.4,1131.7 L1379.8,1154.0 L1380.6,1162.7 L1381.4,1153.9 L1382.2,1183.4 L1383.0,1172.9 L1383.5,1193.5 L1383.8,1182.7 L1384.6,1201.8 L1385.4,1200.3 L1386.2,1189.7 L1387.0,1201.1 L1387.8,1183.9 L1388.6,1217.7 L1389.4,1196.7 L1390.2,1221.7 L1391.0,1218.2 L1391.8,1198.5 L1392.6,1225.8 L1393.4,1213.2 L1393.7,1232.3 L1394.2,1225.1 L1395.0,1229.5 L1395.8,1208.3 L1396.6,1209.1 L1397.4,1232.2 L1398.2,1216.2 L1399.0,1227.4 L1399.8,1212.0 L1400.6,1229.2 L1401.4,1213.6 L1402.2,1226.8 L1402.6,1229.8 L1403.0,1224.6 L1403.8,1214.4 L1404.6,1231.3 L1405.4,1216.0 L1406.2,1229.0 L1407.0,1218.5 L1407.8,1225.8 L1408.6,1218.0 L1409.4,1228.5 L1410.2,1218.0 L1411.0,1230.9 L1411.6,1218.6 L1411.8,1218.3 L1412.6,1218.3 L1413.4,1220.7 L1414.2,1230.9 L1415.0,1216.2 L1415.8,1229.7 L1416.6,1229.4 L1417.4,1215.3 L1418.2,1217.6 L1419.0,1228.7 L1419.2,1217.3 L1419.8,1224.6 L1420.6,1213.9 L1421.4,1228.4 L1422.2,1204.9 L1423.0,1221.3 L1423.8,1199.7 L1424.3,1198.7 L1424.6,1203.5 L1425.4,1226.2 L1426.2,1198.4 L1427.0,1224.5 L1427.8,1200.8 L1428.6,1220.3 L1429.4,1199.9 L1430.2,1205.4 L1431.0,1222.3 L1431.8,1202.5 L1432.6,1203.7 L1433.3,1217.8 L1433.4,1203.7 L1434.2,1219.4 L1435.0,1199.6 L1435.8,1219.5 L1436.6,1215.2 L1437.4,1199.1 L1438.2,1217.9 L1439.0,1201.0 L1439.8,1216.4 L1440.6,1202.0 L1441.4,1213.0 L1442.2,1196.2 L1443.0,1217.3 L1443.8,1210.3 L1444.6,1196.8 L1444.8,1193.6 L1445.4,1195.2 L1446.2,1218.3 L1447.0,1215.5 L1447.8,1217.2 L1448.6,1203.6 L1449.4,1217.7 L1450.2,1217.3 L1451.0,1202.2 L1451.8,1217.6 L1452.4,1205.6 L1452.6,1217.4 L1453.4,1217.1 L1454.2,1207.8 L1455.0,1217.5 L1455.8,1200.2 L1456.6,1223.5 L1457.4,1206.9 L1457.5,1198.7 L1458.2,1223.6 L1459.0,1209.4 L1459.8,1226.9 L1460.6,1221.1 L1461.4,1209.2 L1462.2,1227.9 L1463.0,1208.9 L1463.8,1206.3 L1463.9,1228.5 L1464.6,1209.0 L1465.4,1220.8 L1466.2,1208.7 L1467.0,1219.4 L1467.8,1203.1 L1468.6,1215.8 L1469.0,1208.2 L1469.4,1211.1 L1470.2,1195.9 L1471.0,1189.6 L1471.8,1199.2 L1472.6,1194.0 L1472.8,1175.6 L1473.4,1180.9 L1474.2,1197.8 L1475.0,1175.5 L1475.8,1194.2 L1476.6,1193.3 L1477.4,1196.4 L1478.2,1171.6 L1479.0,1192.4 L1479.8,1168.7 L1480.5,1194.1 L1480.6,1173.6 L1481.4,1190.8 L1482.2,1173.8 L1483.0,1184.1 L1483.8,1171.6 L1484.6,1188.4 L1485.4,1166.6 L1486.2,1179.0 L1486.9,1165.3 L1487.0,1178.9 L1487.8,1155.7 L1488.6,1161.7 L1489.4,1159.9 L1490.2,1135.0 L1490.7,1131.2 L1491.0,1141.6 L1491.8,1125.9 L1492.6,1144.0 L1493.4,1126.5 L1494.2,1143.2 L1494.5,1124.7 L1495.0,1145.0 L1495.8,1129.0 L1496.6,1146.9 L1497.4,1128.1 L1498.2,1130.8 L1498.4,1153.3 L1499.0,1139.9 L1499.8,1169.0 L1500.6,1156.6 L1501.4,1180.8 L1502.2,1187.3 L1503.0,1174.3 L1503.8,1197.1 L1504.6,1196.6 L1505.4,1191.2 L1505.6,1200.1 L1506.2,1194.9 L1507.0,1208.6 L1507.8,1195.9 L1508.6,1210.7 L1509.4,1203.9 L1509.8,1221.2 L1510.2,1200.3 L1511.0,1219.0 L1511.8,1198.2 L1512.6,1214.5 L1513.4,1201.7 L1514.2,1210.0 L1515.0,1198.2 L1515.4,1194.9 L1515.8,1205.0 L1516.6,1189.5 L1517.4,1198.4 L1518.2,1179.1 L1519.0,1191.9 L1519.6,1173.9 L1519.8,1168.6 L1520.6,1161.4 L1521.4,1171.3 L1522.2,1143.1 L1523.0,1137.0 L1523.8,1145.4 L1524.6,1137.2 L1525.4,1102.9 L1526.2,1107.3 L1527.0,1084.9 L1527.3,1086.8 L1527.8,1075.0 L1528.6,1078.1 L1529.4,1064.7 L1529.5,1070.7 L1530.2,1060.8 L1531.0,1066.2 L1531.8,1065.7 L1531.9,1056.2 L1532.6,1077.6 L1533.4,1079.2 L1534.2,1106.1 L1535.0,1089.3 L1535.8,1131.8 L1536.6,1120.0 L1537.4,1132.8 L1537.7,1166.9 L1538.2,1143.8 L1539.0,1171.6 L1539.8,1157.5 L1540.6,1182.9 L1541.4,1181.1 L1541.9,1190.2 L1542.2,1181.4 L1543.0,1192.5 L1543.8,1180.8 L1544.6,1184.2 L1545.4,1194.8 L1546.1,1198.9 L1546.2,1182.4 L1547.0,1197.2 L1547.8,1179.0 L1548.6,1191.5 L1549.4,1174.9 L1550.2,1183.3 L1551.0,1168.7 L1551.8,1190.6 L1552.6,1180.9 L1553.4,1202.2 L1554.2,1194.6 L1554.5,1208.3 L1555.0,1199.0 L1555.8,1207.7 L1556.6,1226.2 L1557.3,1220.3 L1557.4,1230.9 L1558.2,1222.1 L1559.0,1232.2 L1559.8,1224.9 L1560.6,1226.6 L1561.4,1232.3 L1562.2,1226.2 L1562.9,1236.1 L1563.0,1236.7 L1563.8,1227.1 L1564.6,1227.2 L1565.4,1235.8 L1566.2,1228.4 L1567.0,1237.0 L1567.8,1235.3 L1568.6,1229.8 L1569.4,1236.2 L1570.2,1227.3 L1571.0,1233.0 L1571.8,1235.9 L1572.6,1227.2 L1573.4,1235.0 L1574.1,1228.9 L1574.2,1237.9 L1575.0,1225.9 L1575.8,1237.0 L1576.6,1226.2 L1577.4,1239.3 L1578.2,1228.3 L1579.0,1229.0 L1579.8,1237.3 L1580.6,1227.4 L1581.4,1230.9 L1582.2,1231.8 L1583.0,1227.2 L1583.8,1238.7 L1583.9,1227.6 L1584.6,1230.1 L1585.4,1242.3 L1586.2,1233.9 L1587.0,1240.2 L1587.8,1232.0 L1588.6,1241.7 L1589.4,1235.8 L1589.5,1247.8 L1590.2,1243.8 L1591.0,1245.8 L1591.8,1224.5 L1592.6,1240.4 L1593.4,1241.9 L1594.2,1221.6 L1595.0,1236.8 L1595.8,1216.4 L1596.6,1215.6 L1597.4,1236.8 L1597.9,1210.6 L1598.2,1231.1 L1599.0,1235.3 L1599.8,1212.4 L1600.6,1234.9 L1601.4,1216.6 L1602.2,1230.9 L1603.0,1216.3 L1603.8,1233.0 L1604.6,1221.8 L1605.4,1231.8 L1606.2,1220.1 L1607.0,1231.3 L1607.8,1220.9 L1608.6,1216.5 L1609.4,1214.4 L1610.2,1222.1 L1611.0,1211.4 L1611.8,1223.4 L1612.6,1213.4 L1613.4,1220.7 L1614.2,1211.2 L1615.0,1221.6 L1615.8,1205.5 L1616.0,1221.4 L1616.6,1204.7 L1617.4,1217.7 L1618.2,1205.0 L1619.0,1213.6 L1619.8,1199.1 L1620.6,1216.9 L1620.9,1191.1 L1621.4,1219.9 L1622.2,1196.7 L1623.0,1224.3 L1623.8,1205.9 L1624.4,1237.7 L1624.6,1207.5 L1625.4,1212.8 L1626.2,1230.2 L1627.0,1220.1 L1627.8,1231.6 L1628.6,1220.5 L1629.4,1237.7 L1630.2,1225.2 L1631.0,1241.4 L1631.4,1242.2 L1631.8,1240.9 L1632.6,1225.0 L1633.4,1241.7 L1634.2,1224.2 L1635.0,1238.3 L1635.8,1224.3 L1636.6,1237.5 L1637.4,1226.5 L1638.2,1235.5 L1638.4,1224.8 L1639.0,1223.6 L1639.8,1237.7 L1640.6,1225.7 L1641.4,1222.0 L1642.2,1235.6 L1643.0,1223.6 L1643.8,1237.0 L1644.6,1221.0 L1645.4,1233.0 L1646.2,1216.6 L1647.0,1234.4 L1647.8,1213.4 L1648.6,1216.1 L1649.4,1228.7 L1650.2,1208.0 L1651.0,1206.6 L1651.8,1222.3 L1652.4,1208.5 L1652.6,1222.9 L1653.4,1203.6 L1654.2,1202.9 L1655.0,1215.1 L1655.8,1196.1 L1656.6,1207.5 L1657.4,1204.4 L1658.0,1189.0 L1658.2,1203.6 L1659.0,1194.3 L1659.8,1205.2 L1660.6,1192.5 L1661.4,1216.1 L1662.2,1200.5 L1663.0,1200.2 L1663.8,1223.6 L1664.6,1198.4 L1665.0,1226.8 L1665.4,1204.3 L1666.2,1228.2 L1667.0,1226.5 L1667.1,1202.9 L1667.8,1233.6 L1668.6,1215.0 L1669.4,1230.6 L1670.2,1231.9 L1671.0,1217.8 L1671.8,1237.7 L1672.6,1220.8 L1673.3,1239.2 L1673.4,1224.8 L1674.2,1236.0 L1675.0,1223.4 L1675.8,1235.8 L1676.6,1224.2 L1677.4,1228.7 L1678.2,1221.6 L1679.0,1230.4 L1679.8,1220.7 L1680.0,1221.9 L1680.2,1222.2 L1680.5,1219.9 L1680.6,1227.8 L1680.8,1222.1 L1681.0,1223.6 L1681.4,1220.0 L1682.2,1227.9 L1683.0,1218.5 L1683.8,1228.8 L1684.6,1218.3 L1685.4,1229.2 L1686.2,1229.2 L1686.7,1215.7 L1687.0,1229.5 L1687.8,1219.8 L1688.6,1232.0 L1689.4,1220.2 L1690.2,1232.1 L1691.0,1224.9 L1691.8,1236.7 L1692.6,1225.5 L1693.4,1226.9 L1693.9,1239.2 L1694.2,1236.4 L1695.0,1224.3 L1695.8,1240.7 L1696.6,1226.5 L1697.4,1241.9 L1698.2,1240.4 L1699.0,1223.6 L1699.8,1241.9 L1700.6,1228.0 L1701.2,1226.7 L1701.4,1236.7 L1702.2,1225.8 L1703.0,1237.4 L1703.8,1222.1 L1704.6,1243.3 L1705.4,1238.7 L1706.2,1216.9 L1706.3,1216.8 L1707.0,1220.3 L1707.8,1238.3 L1708.6,1239.0 L1709.4,1223.9 L1710.2,1236.7 L1711.0,1225.1 L1711.5,1230.7 L1711.8,1223.8 L1712.6,1220.6 L1713.4,1228.5 L1714.2,1218.5 L1715.0,1215.4 L1715.6,1219.5 L1715.8,1211.9 L1716.6,1201.3 L1717.4,1212.8 L1718.2,1204.4 L1718.7,1208.0 L1719.0,1188.3 L1719.8,1201.5 L1720.6,1163.8 L1721.3,1177.3 L1721.4,1158.5 L1722.2,1181.9 L1723.0,1185.1 L1723.8,1156.7 L1724.6,1183.7 L1725.4,1156.1 L1726.2,1176.3 L1727.0,1154.8 L1727.8,1175.4 L1728.6,1156.6 L1729.4,1182.9 L1730.2,1165.2 L1731.0,1185.6 L1731.1,1163.6 L1731.8,1188.1 L1732.6,1173.1 L1733.4,1186.8 L1734.2,1182.1 L1735.0,1195.5 L1735.3,1190.1 L1735.8,1193.3 L1736.6,1206.7 L1737.4,1207.7 L1738.2,1215.7 L1738.4,1206.8 L1739.0,1216.2 L1739.8,1207.6 L1740.6,1220.1 L1741.4,1207.8 L1742.2,1225.7 L1743.0,1209.5 L1743.8,1228.2 L1744.6,1214.6 L1745.4,1230.6 L1746.2,1219.0 L1747.0,1235.2 L1747.8,1222.4 L1748.6,1223.4 L1749.4,1235.9 L1749.7,1223.0 L1750.2,1241.8 L1751.0,1223.0 L1751.8,1242.2 L1752.6,1225.2 L1753.4,1245.5 L1754.2,1225.8 L1755.0,1246.2 L1755.8,1229.5 L1755.9,1247.5 L1756.6,1232.5 L1757.4,1246.8 L1758.2,1235.2 L1759.0,1247.3 L1759.8,1229.8 L1760.6,1244.8 L1761.4,1227.8 L1762.2,1231.0 L1763.0,1240.1 L1763.2,1216.8 L1763.8,1247.2 L1764.6,1228.3 L1765.4,1249.2 L1766.2,1247.1 L1767.0,1233.1 L1767.8,1252.9 L1768.3,1238.8 L1768.6,1255.4 L1769.4,1241.5 L1770.2,1240.7 L1771.0,1256.6 L1771.8,1244.6 L1772.6,1255.0 L1773.4,1243.3 L1773.5,1254.6 L1774.2,1258.0 L1775.0,1240.4 L1775.8,1238.6 L1776.6,1245.0 L1777.4,1254.0 L1778.2,1252.4 L1778.7,1235.4 L1779.0,1258.8 L1779.8,1237.9 L1780.6,1241.6 L1781.4,1254.9 L1782.2,1237.2 L1783.0,1250.4 L1783.8,1241.3 L1784.4,1242.6 L1784.6,1246.8 L1784.7,1241.1 L1784.9,1239.5 L1785.2,1241.5 L1785.4,1243.0 L1786.2,1241.3 L1787.0,1247.5 L1787.8,1247.0 L1788.6,1237.3 L1789.4,1244.3 L1790.2,1232.0 L1791.0,1229.8 L1791.1,1229.2 L1791.8,1230.0 L1792.6,1245.0 L1793.4,1232.2 L1794.2,1245.2 L1795.0,1236.1 L1795.8,1244.8 L1796.6,1237.2 L1796.8,1241.4 L1797.0,1239.9 L1797.3,1238.5 L1797.4,1239.0 L1797.5,1239.9 L1797.8,1240.7 L1798.2,1242.6 L1799.0,1237.3 L1799.8,1232.2 L1800.6,1241.5 L1801.4,1230.9 L1802.2,1236.9 L1802.5,1225.0 L1803.0,1236.8 L1803.8,1230.0 L1804.6,1240.1 L1805.4,1228.2 L1806.2,1239.4 L1807.0,1228.6 L1807.8,1242.9 L1808.6,1234.3 L1809.4,1241.7 L1809.7,1231.0 L1810.2,1245.1 L1811.0,1232.9 L1811.8,1232.2 L1812.6,1244.1 L1813.4,1232.8 L1814.2,1248.1 L1815.0,1229.9 L1815.8,1247.6 L1816.6,1232.6 L1816.9,1249.1 L1817.4,1236.2 L1818.2,1248.7 L1819.0,1231.1 L1819.8,1228.0 L1820.6,1244.8 L1821.4,1226.4 L1822.2,1245.9 L1823.0,1226.5 L1823.8,1243.1 L1824.6,1229.8 L1825.2,1225.0 L1825.4,1249.3 L1826.2,1226.5 L1827.0,1250.7 L1827.8,1231.0 L1828.6,1247.3 L1829.4,1231.6 L1830.2,1248.6 L1831.0,1234.6 L1831.8,1244.6 L1832.3,1263.1 L1832.6,1248.5 L1833.4,1238.2 L1834.2,1248.4 L1835.0,1250.5 L1835.8,1252.7 L1836.6,1240.6 L1837.4,1253.6 L1838.2,1247.3 L1839.0,1257.1 L1839.6,1248.7 L1839.8,1257.3 L1840.6,1258.5 L1841.4,1248.1 L1842.2,1257.7 L1843.0,1249.8 L1843.8,1258.7 L1844.6,1259.4 L1845.4,1247.8 L1846.2,1274.1 L1847.0,1250.2 L1847.8,1261.9 L1848.6,1249.9 L1849.4,1258.8 L1850.2,1245.3 L1851.0,1261.9 L1851.8,1242.5 L1852.6,1263.9 L1853.4,1259.0 L1854.2,1240.3 L1855.0,1246.4 L1855.8,1260.9 L1856.6,1241.2 L1857.4,1243.5 L1858.2,1244.3 L1859.0,1246.5 L1859.8,1263.5 L1860.6,1249.9 L1860.7,1264.6 L1861.4,1263.6 L1862.2,1250.6 L1863.0,1258.8 L1863.8,1241.8 L1864.6,1262.0 L1865.4,1247.1 L1866.2,1241.1 L1867.0,1259.1 L1867.3,1253.1 L1867.8,1241.9 L1868.6,1245.3 L1869.4,1229.8 L1870.2,1234.2 L1871.0,1219.1 L1871.8,1218.7 L1872.6,1230.8 L1873.4,1219.0 L1874.2,1235.3 L1875.0,1227.0 L1875.8,1211.4 L1876.4,1209.6 L1876.6,1227.8 L1877.4,1232.1 L1878.2,1213.2 L1879.0,1212.8 L1879.8,1234.2 L1880.6,1216.8 L1881.2,1231.9 L1881.4,1217.7 L1882.2,1235.9 L1883.0,1228.3 L1883.8,1243.2 L1884.6,1244.9 L1885.4,1230.9 L1885.5,1246.6 L1886.2,1250.0 L1887.0,1250.1 L1887.8,1238.3 L1888.6,1253.3 L1889.4,1253.3 L1890.2,1238.4 L1890.6,1251.3 L1891.0,1253.0 L1891.8,1242.4 L1892.6,1253.0 L1893.4,1254.1 L1894.2,1243.6 L1895.0,1256.4 L1895.8,1260.9 L1896.6,1253.3 L1897.4,1247.2 L1898.2,1254.0 L1899.0,1240.2 L1899.8,1253.3 L1900.1,1238.9 L1900.6,1251.4 L1901.4,1240.1 L1902.2,1254.5 L1903.0,1239.0 L1903.8,1253.8 L1904.6,1238.5 L1905.4,1256.3 L1906.2,1240.6 L1906.7,1235.9 L1907.0,1240.2 L1907.8,1258.1 L1908.6,1257.3 L1909.4,1255.7 L1910.2,1243.8 L1911.0,1252.8 L1911.8,1244.4 L1912.5,1258.5 L1912.6,1244.4 L1913.4,1258.8 L1914.2,1245.9 L1915.0,1260.1 L1915.8,1244.0 L1916.6,1261.3 L1917.4,1242.9 L1918.2,1259.6 L1918.4,1261.7 L1919.0,1261.0 L1919.8,1260.7 L1920.6,1242.3 L1921.4,1255.0 L1922.2,1257.1 L1923.0,1244.6 L1923.5,1253.5 L1923.8,1245.3 L1924.6,1255.3 L1925.4,1254.1 L1926.2,1253.2 L1927.0,1245.2 L1927.8,1255.3 L1928.6,1245.8 L1929.0,1252.7" fill="none" stroke="#404040" stroke-width="3.4" stroke-linejoin="round"/>
<path d="M191.0,786.9 L191.8,795.5 L192.5,803.3 L192.6,786.3 L193.4,782.6 L194.2,798.4 L195.0,800.6 L195.8,799.9 L196.6,781.7 L197.4,798.5 L198.2,783.1 L199.0,779.4 L199.8,796.8 L200.6,785.5 L201.4,794.7 L202.2,780.8 L203.0,797.7 L203.8,779.0 L204.6,794.1 L205.4,781.1 L205.5,777.7 L206.2,795.6 L207.0,778.7 L207.8,776.3 L208.6,794.8 L209.4,777.6 L210.2,789.5 L211.0,778.3 L211.8,790.4 L212.6,771.9 L212.8,788.8 L213.4,788.8 L214.2,767.2 L215.0,784.5 L215.8,790.6 L216.6,769.2 L217.4,791.2 L218.2,758.6 L219.0,760.2 L219.4,780.6 L219.8,755.6 L220.6,786.3 L221.4,755.2 L222.2,778.7 L223.0,754.4 L223.8,775.0 L224.5,746.0 L224.6,774.4 L225.4,773.5 L226.2,759.2 L227.0,771.6 L227.8,760.0 L228.6,773.1 L229.4,758.4 L230.2,760.8 L230.3,776.9 L231.0,765.6 L231.8,777.6 L232.6,757.0 L233.4,774.8 L234.2,756.7 L235.0,775.6 L235.8,756.3 L236.1,774.3 L236.6,754.4 L237.4,773.8 L238.2,752.6 L239.0,750.5 L239.8,772.1 L240.6,770.2 L241.4,751.4 L242.2,769.8 L243.0,747.4 L243.4,745.1 L243.8,766.4 L244.6,745.4 L245.4,767.0 L246.2,741.4 L247.0,762.0 L247.8,743.3 L248.6,759.5 L249.4,734.9 L250.2,751.9 L251.0,734.3 L251.8,754.7 L252.6,760.5 L252.9,725.6 L253.4,760.1 L254.2,734.5 L255.0,730.2 L255.8,735.5 L256.6,754.2 L257.4,734.9 L258.0,732.2 L258.2,758.7 L259.0,738.9 L259.8,753.0 L260.6,736.6 L261.4,755.2 L262.2,733.7 L262.4,758.8 L263.0,747.8 L263.8,745.5 L264.6,731.1 L265.4,746.7 L266.2,730.9 L266.8,735.9 L267.0,738.1 L267.8,729.5 L268.6,737.9 L269.4,723.3 L270.2,721.0 L271.0,733.7 L271.8,724.0 L272.6,734.1 L273.4,721.9 L274.2,729.1 L275.0,717.4 L275.3,727.9 L275.8,704.0 L276.3,699.6 L276.6,685.8 L277.4,695.7 L277.5,663.2 L278.1,644.1 L278.2,677.7 L278.8,643.5 L279.0,648.3 L279.4,641.7 L279.8,650.2 L280.1,644.1 L280.5,699.5 L280.6,667.1 L280.7,644.1 L281.4,705.7 L281.5,710.3 L282.2,706.4 L283.0,691.2 L283.5,688.3 L283.8,695.0 L284.6,681.9 L285.4,689.6 L285.5,681.1 L286.2,668.9 L287.0,656.5 L287.8,647.0 L288.5,644.6 L288.6,629.7 L289.4,641.6 L290.2,639.2 L290.5,620.3 L291.0,613.9 L291.8,606.2 L292.4,605.6 L292.6,607.4 L293.1,603.7 L293.4,606.6 L293.8,605.0 L294.2,623.8 L294.4,606.2 L295.0,629.9 L295.8,622.8 L296.5,625.2 L296.6,648.6 L297.4,640.6 L298.2,647.5 L298.5,671.1 L299.0,661.3 L299.8,677.9 L300.3,692.1 L300.6,685.0 L301.4,696.6 L302.2,684.6 L303.0,701.2 L303.8,687.5 L304.6,699.9 L304.7,689.2 L305.4,701.8 L306.2,691.7 L307.0,703.4 L307.8,689.4 L308.6,689.2 L309.4,691.8 L310.2,705.1 L310.6,705.4 L311.0,686.4 L311.8,705.4 L312.6,697.6 L313.4,678.1 L313.5,669.5 L314.2,699.2 L315.0,686.2 L315.8,700.0 L316.6,688.0 L317.1,699.8 L317.4,695.5 L318.2,682.1 L319.0,699.7 L319.1,700.8 L319.8,693.0 L320.6,680.4 L321.4,694.5 L322.2,682.9 L323.0,676.7 L323.8,683.9 L324.6,700.2 L325.4,677.6 L326.2,696.6 L326.7,679.8 L327.0,690.7 L327.8,675.2 L328.6,694.8 L329.4,676.3 L330.2,690.3 L331.0,679.7 L331.8,669.6 L332.6,694.9 L332.8,671.6 L333.4,690.4 L334.2,691.0 L335.0,663.6 L335.8,687.0 L336.6,682.2 L337.3,684.2 L337.4,660.7 L338.2,680.1 L339.0,667.2 L339.8,679.8 L340.6,663.7 L341.4,680.1 L342.2,659.6 L343.0,677.1 L343.8,661.8 L344.6,676.7 L344.9,678.3 L345.4,659.9 L346.2,665.4 L347.0,677.2 L347.8,658.9 L348.6,671.5 L349.4,660.0 L350.2,675.8 L351.0,653.6 L351.8,652.7 L352.6,651.9 L353.4,657.2 L354.2,672.3 L355.0,648.9 L355.8,669.2 L356.6,651.3 L357.4,663.8 L358.2,667.4 L358.6,649.6 L359.0,665.8 L359.8,649.7 L360.6,668.4 L361.4,655.3 L362.2,661.4 L363.0,647.8 L363.8,668.0 L364.6,653.6 L365.4,646.3 L366.2,666.8 L367.0,648.8 L367.7,650.5 L367.8,666.2 L368.6,647.6 L369.4,644.2 L370.2,658.7 L371.0,644.6 L371.8,656.5 L372.6,646.2 L373.4,662.2 L374.2,642.6 L375.0,659.2 L375.3,635.8 L375.8,635.7 L376.6,656.1 L377.4,638.2 L378.2,657.8 L379.0,643.9 L379.8,655.8 L380.6,643.3 L381.4,652.4 L382.2,640.3 L383.0,638.0 L383.8,644.6 L384.6,634.7 L385.4,640.4 L386.0,632.8 L386.2,656.7 L387.0,628.8 L387.8,640.9 L388.6,629.7 L389.4,642.3 L390.2,630.8 L391.0,627.2 L391.8,638.2 L392.6,628.8 L393.4,627.8 L393.6,642.1 L394.2,624.5 L395.0,640.0 L395.8,620.3 L396.6,637.6 L397.4,618.6 L398.1,632.3 L398.2,613.0 L399.0,623.1 L399.8,601.6 L400.6,619.4 L401.4,593.5 L402.2,610.0 L402.7,586.8 L403.0,606.4 L403.8,586.9 L404.6,583.2 L405.4,585.8 L406.2,585.7 L407.0,595.7 L407.2,581.1 L407.8,587.4 L408.6,604.8 L409.4,597.0 L410.2,617.6 L410.3,601.3 L411.0,601.5 L411.8,621.5 L412.6,618.7 L413.4,603.3 L414.2,623.0 L415.0,624.6 L415.8,619.2 L416.4,627.8 L416.6,620.1 L417.4,602.3 L418.2,625.8 L419.0,603.8 L419.8,622.0 L420.6,604.0 L421.4,626.0 L422.2,607.7 L422.4,605.1 L423.0,624.4 L423.8,602.2 L424.6,603.6 L425.4,599.6 L426.2,596.8 L427.0,629.3 L427.8,597.0 L428.6,627.1 L429.4,623.5 L430.2,603.4 L431.0,628.6 L431.8,602.8 L432.6,622.2 L433.1,593.8 L433.4,620.1 L434.2,597.1 L435.0,616.0 L435.8,599.2 L436.6,619.6 L437.4,602.8 L438.2,611.8 L439.0,598.4 L439.1,610.6 L439.8,599.9 L440.6,612.2 L441.4,595.7 L442.2,594.8 L443.0,610.5 L443.7,606.3 L443.8,589.5 L444.6,604.4 L445.4,586.8 L446.2,589.3 L447.0,604.5 L447.8,582.5 L448.6,600.5 L449.4,583.6 L450.2,603.8 L451.0,579.9 L451.8,596.2 L452.6,580.8 L452.8,577.8 L453.4,602.7 L454.2,576.9 L455.0,600.2 L455.8,573.8 L456.6,573.4 L457.4,594.3 L458.2,580.2 L459.0,595.6 L459.8,596.3 L460.6,593.1 L461.4,574.5 L461.9,578.5 L462.2,576.4 L463.0,594.3 L463.8,568.8 L464.6,591.5 L465.4,572.4 L466.2,595.1 L467.0,566.9 L467.8,591.3 L468.0,564.4 L468.6,567.2 L469.4,592.2 L470.2,574.3 L471.0,594.4 L471.8,569.6 L472.6,592.8 L473.4,575.6 L474.2,596.3 L475.0,572.0 L475.8,597.6 L476.6,571.2 L477.4,593.0 L478.0,559.2 L478.2,566.4 L479.0,571.5 L479.8,586.6 L480.6,563.2 L481.4,590.1 L482.2,591.3 L483.0,570.4 L483.8,584.1 L484.1,573.2 L484.6,569.6 L485.4,589.7 L486.2,569.7 L487.0,588.0 L487.8,579.6 L488.6,591.1 L489.4,591.8 L490.2,592.3 L491.0,588.0 L491.8,573.1 L492.6,584.8 L493.4,567.2 L494.2,565.6 L494.8,562.2 L495.0,581.2 L495.8,564.6 L496.6,581.6 L497.4,580.1 L498.2,563.0 L499.0,581.9 L499.8,567.4 L500.6,577.1 L501.4,564.3 L502.2,580.5 L502.3,565.7 L503.0,580.5 L503.8,562.6 L504.6,578.1 L505.4,565.4 L506.2,560.7 L507.0,562.3 L507.8,578.9 L508.6,559.8 L509.4,577.1 L510.0,573.9 L510.2,564.8 L511.0,573.1 L511.8,578.7 L512.6,557.8 L513.4,576.9 L514.2,551.8 L515.0,558.5 L515.8,573.4 L516.0,550.3 L516.6,568.1 L517.4,550.6 L518.2,566.9 L519.0,552.7 L519.8,561.3 L520.6,563.9 L521.4,545.8 L522.1,561.0 L522.2,542.5 L523.0,560.7 L523.8,558.0 L524.6,530.7 L525.4,554.8 L526.2,520.4 L526.7,551.8 L527.0,521.9 L527.8,533.9 L528.6,494.6 L529.4,503.1 L529.7,487.2 L530.2,491.2 L531.0,459.0 L531.8,466.2 L532.6,430.8 L532.7,448.1 L533.4,422.7 L534.2,406.3 L534.5,418.4 L535.0,402.9 L535.2,402.6 L535.8,401.0 L535.9,401.9 L536.5,399.7 L536.6,402.2 L537.1,400.8 L537.4,406.7 L537.8,401.6 L538.2,416.8 L538.8,415.5 L539.0,428.7 L539.8,436.8 L540.5,451.1 L540.6,469.0 L541.4,483.5 L541.8,505.8 L542.2,505.7 L543.0,528.5 L543.8,541.8 L544.6,515.3 L545.4,549.3 L546.2,530.7 L546.4,548.6 L547.0,554.6 L547.8,531.3 L548.6,555.8 L549.4,532.6 L550.2,549.5 L551.0,555.8 L551.8,546.5 L552.6,523.2 L553.4,545.9 L554.0,543.4 L554.2,524.0 L555.0,509.6 L555.8,519.9 L556.6,484.4 L557.4,497.6 L557.8,476.9 L558.2,478.1 L559.0,439.1 L559.5,440.1 L559.8,411.6 L560.5,412.5 L560.6,415.3 L561.1,410.3 L561.4,421.7 L561.8,412.3 L562.2,433.9 L562.4,411.4 L562.8,447.3 L563.0,438.3 L563.8,470.5 L564.6,477.0 L565.4,492.0 L566.2,517.7 L567.0,517.6 L567.7,556.5 L567.8,521.8 L568.6,554.3 L569.4,524.4 L570.2,547.2 L571.0,522.8 L571.8,563.1 L572.2,563.4 L572.6,558.6 L573.4,529.2 L574.2,561.8 L575.0,527.7 L575.8,558.6 L576.6,538.4 L577.4,555.9 L578.2,540.5 L578.3,557.9 L579.0,538.2 L579.8,561.6 L580.6,541.4 L581.4,562.1 L582.2,563.7 L583.0,539.5 L583.8,558.9 L584.4,566.4 L584.6,535.4 L585.4,541.8 L586.2,564.9 L587.0,537.9 L587.8,538.6 L588.6,558.3 L589.4,538.1 L590.2,566.5 L590.5,525.7 L591.0,550.3 L591.8,520.2 L592.5,539.0 L592.6,510.7 L593.0,490.2 L593.4,513.0 L593.6,488.7 L594.2,495.4 L594.3,486.3 L595.0,488.3 L595.0,496.8 L595.6,489.1 L595.8,513.5 L596.0,540.4 L596.6,524.3 L597.4,548.4 L598.1,535.0 L598.2,533.1 L599.0,537.4 L599.8,548.4 L600.6,535.7 L601.4,547.2 L602.2,536.7 L603.0,556.3 L603.8,536.7 L604.1,549.7 L604.6,550.7 L605.4,527.2 L606.2,533.0 L607.0,545.3 L607.8,515.3 L608.6,546.0 L609.4,520.4 L610.2,535.3 L611.0,512.0 L611.7,526.1 L611.8,504.0 L612.6,527.2 L613.4,503.8 L614.2,531.7 L615.0,501.9 L615.8,528.1 L616.3,490.8 L616.6,499.9 L617.4,523.6 L618.2,508.2 L619.0,529.0 L619.8,502.7 L620.6,510.2 L620.9,533.0 L621.4,506.0 L622.2,528.8 L623.0,519.8 L623.8,505.6 L624.6,515.6 L625.4,497.8 L626.2,510.6 L626.9,495.7 L627.0,506.5 L627.8,480.7 L628.6,480.7 L629.4,462.1 L630.0,463.6 L630.2,449.9 L631.0,439.8 L631.8,417.7 L632.0,421.6 L632.5,388.3 L632.6,412.1 L633.1,387.8 L633.4,398.7 L633.8,386.8 L634.2,390.7 L634.5,388.6 L635.0,397.0 L635.1,388.0 L635.5,413.0 L635.8,407.4 L636.6,432.3 L636.8,422.6 L637.4,445.8 L638.2,479.8 L639.0,533.0 L639.1,542.1 L639.8,511.9 L640.6,533.6 L641.4,515.6 L642.2,538.3 L643.0,520.9 L643.6,539.3 L643.8,519.7 L644.6,539.7 L645.4,535.7 L646.2,518.1 L647.0,537.3 L647.6,519.2 L647.8,518.3 L648.6,535.7 L649.4,518.3 L650.2,532.2 L651.0,516.9 L651.8,530.8 L652.6,518.5 L653.4,528.3 L654.2,518.6 L655.0,532.3 L655.2,513.6 L655.8,531.2 L656.6,509.9 L657.4,518.2 L658.2,534.2 L659.0,513.2 L659.8,532.9 L660.6,513.7 L661.4,540.5 L662.2,542.3 L663.0,511.9 L663.8,542.0 L664.3,506.2 L664.6,513.3 L665.4,539.0 L666.2,526.4 L667.0,550.1 L667.8,542.4 L668.6,527.3 L669.4,549.0 L670.2,555.0 L670.4,554.4 L671.0,545.8 L671.8,528.9 L672.6,533.9 L673.4,543.0 L674.2,526.9 L675.0,546.3 L675.8,551.1 L676.6,524.0 L677.4,549.4 L678.0,544.9 L678.2,519.9 L679.0,525.2 L679.8,540.1 L680.6,542.5 L681.4,525.3 L682.2,537.2 L683.0,524.5 L683.8,542.2 L684.6,519.3 L685.4,541.6 L685.6,525.7 L686.2,519.2 L687.0,534.5 L687.8,506.7 L688.6,535.1 L689.4,506.5 L690.1,500.1 L690.2,525.8 L691.0,503.8 L691.8,531.1 L692.6,532.6 L693.4,506.8 L694.2,527.4 L695.0,516.0 L695.8,528.2 L696.2,536.2 L696.6,532.7 L697.4,513.4 L698.2,514.4 L699.0,529.4 L699.8,499.0 L700.6,525.6 L700.8,524.8 L701.4,514.0 L702.2,515.1 L703.0,492.7 L703.8,494.0 L704.6,502.8 L705.3,483.1 L705.4,505.2 L706.2,477.3 L707.0,495.7 L707.8,494.0 L708.6,472.0 L709.4,488.0 L709.9,462.1 L710.2,487.4 L711.0,473.9 L711.8,498.9 L712.6,472.8 L713.4,505.1 L714.2,471.0 L714.4,518.3 L715.0,476.8 L715.8,520.1 L716.6,482.0 L717.4,514.8 L718.2,497.8 L719.0,518.9 L719.8,516.7 L720.5,504.8 L720.6,506.6 L721.4,518.6 L722.2,504.8 L723.0,523.7 L723.8,522.5 L724.6,499.2 L725.4,525.8 L726.2,498.8 L727.0,522.8 L727.8,500.6 L728.1,492.5 L728.6,506.0 L729.4,525.0 L730.2,501.2 L731.0,508.6 L731.8,531.4 L732.6,510.4 L733.4,532.1 L734.2,531.6 L735.0,529.1 L735.8,505.6 L736.6,496.7 L737.4,490.2 L738.2,511.5 L739.0,501.3 L739.8,506.5 L740.3,471.7 L740.6,502.0 L741.4,496.1 L742.2,471.0 L743.0,498.7 L743.8,470.6 L744.6,498.9 L745.4,497.4 L746.2,463.4 L746.4,488.2 L747.0,468.6 L747.8,478.2 L748.6,475.0 L749.4,449.1 L750.2,459.4 L750.9,432.9 L751.0,452.0 L751.8,425.3 L752.6,416.6 L753.4,420.3 L753.9,407.2 L754.2,405.4 L754.9,355.1 L755.0,387.3 L755.5,354.9 L755.8,367.4 L756.2,353.5 L756.6,358.0 L756.9,354.5 L757.4,374.5 L757.5,355.9 L758.0,381.6 L758.2,373.4 L759.0,390.7 L759.8,381.5 L760.0,398.7 L760.6,388.4 L761.4,421.4 L762.2,406.9 L763.0,452.4 L763.1,422.6 L763.8,431.4 L764.6,464.0 L765.4,453.9 L766.2,474.5 L767.0,463.5 L767.6,489.7 L767.8,476.2 L768.6,489.1 L769.4,493.1 L770.2,486.6 L771.0,488.1 L771.8,503.3 L772.2,493.9 L772.6,506.9 L773.4,499.5 L774.2,518.7 L775.0,529.1 L775.2,530.1 L775.8,525.1 L776.6,508.0 L777.4,524.0 L778.2,524.9 L779.0,519.2 L779.8,519.6 L780.6,495.8 L781.3,515.2 L781.4,496.5 L782.2,517.1 L783.0,493.9 L783.8,509.2 L784.6,492.8 L785.4,508.1 L786.2,480.5 L787.0,506.2 L787.8,475.0 L788.6,499.5 L789.4,469.1 L790.2,466.2 L790.4,465.9 L791.0,470.6 L791.8,501.9 L792.6,474.4 L793.4,502.9 L794.2,484.2 L795.0,502.8 L795.8,484.9 L796.6,501.7 L797.4,485.7 L798.2,511.4 L799.0,507.9 L799.5,509.9 L799.8,515.0 L800.6,489.8 L801.4,487.4 L802.2,508.6 L803.0,490.2 L803.8,520.1 L804.6,494.5 L805.4,514.1 L806.2,492.2 L807.0,523.9 L807.1,524.0 L807.8,517.0 L808.6,492.3 L809.4,517.3 L810.2,491.4 L811.0,493.4 L811.1,518.4 L811.8,484.2 L812.6,498.7 L813.4,454.3 L814.1,487.7 L814.2,440.1 L815.0,477.3 L815.8,417.1 L816.6,435.1 L817.2,404.4 L817.4,418.2 L818.2,392.1 L819.0,396.4 L819.3,368.7 L819.8,378.0 L820.0,368.7 L820.6,366.4 L821.2,368.2 L821.4,376.7 L821.9,369.3 L822.2,385.7 L823.0,406.0 L823.8,408.1 L824.0,423.6 L824.6,432.8 L825.4,424.0 L826.2,463.4 L827.0,469.4 L827.8,450.1 L828.6,488.3 L829.4,468.7 L830.1,502.4 L830.2,475.3 L831.0,496.0 L831.8,507.7 L832.6,490.6 L833.1,511.9 L833.4,477.0 L834.2,486.1 L835.0,500.5 L835.8,477.7 L836.6,494.4 L836.9,475.7 L837.4,480.4 L838.2,449.1 L839.0,459.2 L839.8,429.0 L840.0,445.7 L840.6,412.5 L841.4,427.4 L842.2,399.6 L843.0,414.8 L843.8,393.1 L844.5,396.5 L844.6,378.4 L845.4,383.9 L846.2,357.7 L847.0,357.9 L847.8,333.2 L848.5,332.7 L848.6,335.9 L849.1,330.7 L849.4,332.3 L849.8,332.4 L850.2,342.9 L850.4,332.5 L851.0,339.2 L851.8,360.5 L852.6,363.1 L852.9,378.2 L853.4,377.7 L854.2,420.4 L855.0,414.6 L855.1,422.4 L855.8,452.3 L856.6,445.3 L857.4,475.1 L858.2,457.2 L859.0,484.7 L859.8,473.1 L860.6,472.8 L861.4,483.9 L862.2,498.7 L862.7,488.3 L863.0,501.6 L863.8,490.1 L864.6,489.0 L865.4,513.9 L866.2,520.8 L867.0,493.5 L867.3,527.1 L867.8,504.6 L868.6,516.6 L869.4,496.2 L870.2,514.8 L871.0,492.2 L871.8,484.9 L872.6,508.6 L873.4,519.7 L874.2,489.2 L875.0,522.1 L875.8,485.4 L876.4,531.6 L876.6,484.2 L877.4,520.1 L878.2,480.2 L879.0,502.4 L879.8,491.8 L880.2,468.1 L880.6,479.6 L881.4,435.2 L882.0,433.2 L882.2,430.3 L882.4,403.8 L883.0,411.0 L883.0,402.3 L883.7,399.8 L883.8,401.2 L884.4,402.1 L884.6,405.9 L885.0,402.9 L885.4,413.8 L885.5,421.4 L886.2,418.7 L887.0,430.9 L887.8,429.3 L888.6,444.2 L889.4,452.1 L890.2,447.9 L891.0,468.6 L891.6,476.1 L891.8,478.1 L892.6,487.5 L893.4,480.8 L894.2,504.9 L894.6,495.2 L895.0,501.3 L895.8,522.9 L896.6,510.4 L897.4,505.1 L898.2,533.4 L899.0,551.9 L899.2,517.3 L899.8,555.6 L900.6,531.9 L901.4,557.8 L902.2,553.0 L903.0,536.8 L903.8,557.2 L904.6,542.0 L905.3,558.3 L905.4,545.9 L906.2,558.3 L907.0,547.7 L907.8,556.4 L908.6,546.5 L909.4,557.1 L910.2,545.5 L911.0,557.8 L911.8,547.0 L912.6,555.2 L912.9,544.8 L913.4,556.2 L914.2,542.9 L915.0,554.1 L915.8,539.9 L916.6,555.0 L917.4,558.8 L918.2,543.2 L919.0,530.5 L919.8,538.0 L920.6,554.6 L921.4,540.2 L922.2,558.4 L923.0,543.4 L923.8,553.6 L924.6,554.8 L925.4,544.3 L926.2,545.0 L926.5,559.0 L927.0,545.9 L927.8,548.1 L928.6,557.9 L929.4,558.0 L930.2,556.5 L931.0,547.0 L931.8,558.5 L932.6,545.6 L933.4,552.4 L934.2,544.7 L935.0,555.9 L935.7,541.2 L935.8,555.6 L936.6,551.3 L937.4,543.1 L938.2,555.3 L939.0,553.1 L939.8,537.7 L940.6,550.2 L941.4,531.2 L942.2,551.5 L943.0,549.8 L943.8,528.2 L944.6,536.1 L944.8,547.9 L945.4,532.1 L946.2,547.1 L947.0,530.9 L947.8,543.6 L948.6,520.3 L949.4,534.4 L950.2,519.5 L950.9,513.8 L951.0,517.5 L951.8,536.0 L952.6,520.4 L953.4,520.0 L954.2,539.1 L955.0,524.7 L955.8,527.0 L956.6,523.9 L956.9,529.7 L957.4,546.9 L958.2,531.5 L959.0,544.1 L959.8,533.9 L960.6,533.7 L961.4,551.5 L962.2,533.8 L963.0,555.5 L963.8,537.5 L964.5,555.0 L964.6,537.2 L965.4,558.1 L966.2,542.2 L967.0,565.8 L967.8,565.3 L968.6,554.2 L969.4,570.7 L970.2,579.6 L971.0,551.8 L971.5,585.2 L971.8,552.5 L972.6,579.7 L973.4,551.8 L974.2,575.5 L975.0,556.7 L975.8,549.8 L976.6,548.1 L977.4,574.4 L977.6,547.9 L978.2,553.4 L979.0,550.7 L979.8,574.6 L980.6,546.1 L981.4,573.2 L982.2,539.7 L983.0,541.1 L983.8,571.3 L984.6,535.1 L985.2,542.2 L985.4,570.5 L986.2,531.3 L987.0,556.3 L987.8,539.4 L988.6,526.9 L989.4,557.0 L990.2,520.9 L991.0,547.2 L991.8,522.3 L992.6,537.1 L993.4,519.1 L993.5,512.6 L994.2,518.9 L995.0,542.3 L995.8,525.3 L996.6,555.7 L997.4,530.7 L998.2,540.2 L998.9,540.3 L999.0,539.2 L999.8,562.1 L1000.6,544.9 L1001.4,571.0 L1002.2,548.3 L1003.0,568.6 L1003.8,550.5 L1004.6,573.0 L1005.4,560.6 L1006.2,578.6 L1006.5,582.1 L1007.0,557.5 L1007.8,578.4 L1008.6,573.7 L1009.4,553.6 L1010.2,578.8 L1011.0,550.7 L1011.8,557.3 L1012.6,582.3 L1013.4,557.5 L1014.2,570.9 L1015.0,552.3 L1015.6,549.1 L1015.8,554.8 L1016.6,579.1 L1017.4,554.1 L1018.2,572.8 L1019.0,550.3 L1019.8,561.5 L1020.6,576.5 L1021.4,556.6 L1022.2,579.2 L1023.0,554.4 L1023.2,583.7 L1023.8,555.5 L1024.6,581.9 L1025.4,562.4 L1026.2,571.6 L1027.0,556.6 L1027.8,573.2 L1028.6,581.5 L1029.4,553.6 L1030.2,581.9 L1030.8,550.6 L1031.0,580.5 L1031.8,555.1 L1032.6,579.4 L1033.4,552.1 L1034.2,574.6 L1035.0,555.6 L1035.8,572.3 L1036.6,556.2 L1037.4,574.8 L1038.2,556.0 L1038.4,556.2 L1039.0,571.5 L1039.8,566.6 L1040.6,545.7 L1041.4,555.1 L1042.2,537.8 L1042.9,549.4 L1043.0,536.0 L1043.8,550.4 L1044.6,529.6 L1045.4,550.9 L1046.2,529.3 L1047.0,546.9 L1047.5,521.7 L1047.8,554.8 L1048.6,524.7 L1049.4,553.2 L1050.2,556.2 L1051.0,534.7 L1051.8,557.6 L1052.6,539.5 L1052.8,558.4 L1053.4,543.3 L1054.2,550.8 L1055.0,566.4 L1055.8,552.5 L1056.6,576.1 L1057.4,563.2 L1058.1,583.8 L1058.2,584.1 L1059.0,564.1 L1059.8,580.4 L1060.6,566.0 L1061.4,588.6 L1062.2,561.5 L1063.0,588.1 L1063.8,566.6 L1064.2,589.7 L1064.6,584.6 L1065.4,564.2 L1066.2,576.2 L1067.0,559.2 L1067.8,577.9 L1068.6,581.5 L1069.4,560.7 L1070.2,570.6 L1070.3,553.6 L1071.0,576.7 L1071.8,566.2 L1072.6,560.5 L1073.4,584.3 L1074.2,569.1 L1075.0,572.5 L1075.8,587.5 L1076.4,572.1 L1076.6,591.5 L1077.4,589.0 L1078.2,573.5 L1079.0,596.2 L1079.8,575.1 L1080.6,596.9 L1081.4,596.5 L1082.2,576.3 L1083.0,593.3 L1083.8,600.5 L1083.9,576.5 L1084.6,599.4 L1085.4,572.6 L1086.2,600.8 L1087.0,573.1 L1087.8,590.9 L1088.6,568.9 L1089.4,601.6 L1090.2,578.6 L1091.0,600.3 L1091.5,568.8 L1091.8,600.6 L1092.6,573.1 L1093.4,600.4 L1094.2,574.9 L1095.0,598.0 L1095.8,582.6 L1096.6,603.1 L1097.4,580.3 L1098.2,574.6 L1099.0,601.1 L1099.1,608.0 L1099.8,573.1 L1100.6,602.2 L1101.4,577.4 L1102.2,600.0 L1103.0,577.0 L1103.8,601.7 L1104.6,584.5 L1105.4,591.4 L1106.2,578.8 L1106.7,592.7 L1107.0,597.3 L1107.8,577.0 L1108.6,594.8 L1109.4,575.3 L1110.2,570.6 L1111.0,570.3 L1111.8,592.1 L1112.6,595.5 L1113.4,571.9 L1114.2,568.0 L1114.3,574.9 L1115.0,576.4 L1115.8,593.8 L1116.6,572.0 L1117.4,601.0 L1118.2,559.9 L1119.0,597.2 L1119.8,562.0 L1120.6,557.9 L1121.4,595.6 L1121.9,601.9 L1122.2,597.2 L1123.0,559.2 L1123.8,581.4 L1124.5,542.9 L1124.6,586.8 L1125.4,541.6 L1126.2,538.1 L1126.5,521.7 L1127.0,532.8 L1127.8,565.3 L1128.5,551.3 L1128.6,573.0 L1129.4,544.3 L1130.2,577.3 L1131.0,585.2 L1131.8,554.5 L1132.6,562.3 L1133.4,576.2 L1134.2,573.4 L1135.0,558.9 L1135.8,576.3 L1136.6,557.5 L1137.1,554.6 L1137.4,568.0 L1138.2,553.4 L1139.0,546.6 L1139.8,543.6 L1140.6,567.3 L1141.1,540.3 L1141.4,566.7 L1142.2,532.6 L1143.0,548.7 L1143.8,551.6 L1144.6,523.3 L1145.4,549.9 L1145.6,510.5 L1146.2,542.7 L1147.0,506.6 L1147.8,530.7 L1148.6,489.0 L1149.4,512.0 L1150.2,480.2 L1151.0,510.4 L1151.8,476.3 L1152.6,504.8 L1153.4,478.1 L1154.2,487.8 L1155.0,490.7 L1155.8,472.3 L1156.6,462.2 L1157.0,458.8 L1157.4,484.6 L1158.2,475.7 L1159.0,498.8 L1159.8,486.8 L1160.6,507.3 L1161.4,494.9 L1162.2,518.2 L1162.3,507.4 L1163.0,519.1 L1163.8,511.9 L1164.6,506.4 L1165.4,529.9 L1166.2,527.7 L1166.9,510.1 L1167.0,537.1 L1167.8,536.4 L1168.6,532.0 L1169.4,559.0 L1170.0,542.0 L1170.2,562.3 L1171.0,568.3 L1171.8,548.9 L1172.6,575.4 L1173.4,557.8 L1174.2,559.1 L1174.5,583.0 L1175.0,582.1 L1175.8,556.0 L1176.6,576.0 L1177.4,559.1 L1177.5,546.9 L1178.2,560.7 L1179.0,583.4 L1179.8,567.6 L1180.6,568.1 L1181.4,592.8 L1182.1,582.6 L1182.2,582.5 L1183.0,597.2 L1183.8,586.9 L1184.6,599.3 L1185.4,574.9 L1186.2,597.2 L1187.0,582.6 L1187.8,608.7 L1188.6,612.2 L1189.4,581.3 L1189.7,574.3 L1190.2,579.5 L1191.0,603.6 L1191.8,574.9 L1192.6,610.8 L1193.4,589.7 L1194.2,604.9 L1195.0,581.7 L1195.8,614.5 L1196.6,589.7 L1197.4,609.3 L1198.2,611.8 L1198.8,581.9 L1199.0,604.5 L1199.8,593.0 L1200.6,602.5 L1201.4,591.8 L1202.2,604.8 L1203.0,582.2 L1203.8,604.7 L1204.6,583.0 L1205.4,584.8 L1206.2,613.5 L1207.0,580.8 L1207.8,612.7 L1207.9,585.7 L1208.6,607.0 L1209.4,581.1 L1210.2,601.3 L1211.0,582.5 L1211.8,596.6 L1212.6,594.2 L1213.4,573.5 L1214.2,587.9 L1215.0,567.4 L1215.5,580.6 L1215.8,569.4 L1216.6,572.1 L1217.4,578.0 L1218.2,570.9 L1219.0,580.8 L1219.8,567.1 L1220.6,579.9 L1221.4,566.5 L1222.2,577.0 L1223.0,581.1 L1223.8,571.1 L1224.6,567.2 L1225.4,584.2 L1226.2,571.3 L1227.0,583.0 L1227.8,587.9 L1228.6,572.7 L1229.4,588.0 L1230.2,577.3 L1231.0,576.1 L1231.8,593.5 L1232.2,580.4 L1232.6,603.6 L1233.4,580.1 L1234.2,605.3 L1235.0,603.8 L1235.8,581.8 L1236.6,582.1 L1237.4,605.2 L1238.2,585.6 L1239.0,583.9 L1239.8,608.0 L1240.6,592.0 L1241.4,611.2 L1242.2,589.4 L1243.0,611.1 L1243.8,592.1 L1244.6,605.2 L1245.4,609.2 L1246.2,587.1 L1247.0,605.1 L1247.8,610.4 L1248.6,581.7 L1249.4,610.6 L1250.2,581.4 L1251.0,577.0 L1251.8,611.2 L1252.0,577.3 L1252.6,610.6 L1253.4,583.2 L1254.2,578.2 L1255.0,610.3 L1255.8,579.9 L1256.6,603.3 L1257.4,578.7 L1258.2,583.7 L1259.0,598.6 L1259.8,580.3 L1260.6,586.6 L1261.1,603.6 L1261.4,578.2 L1262.2,601.1 L1263.0,581.7 L1263.8,598.6 L1264.6,584.8 L1265.4,603.9 L1266.2,580.0 L1267.0,594.3 L1267.2,573.7 L1267.8,595.5 L1268.6,565.1 L1269.4,582.6 L1270.2,543.6 L1271.0,576.1 L1271.8,567.1 L1272.6,532.3 L1273.4,556.8 L1274.2,534.3 L1275.0,542.4 L1275.8,541.8 L1276.3,541.1 L1276.6,519.1 L1277.4,540.3 L1278.2,521.9 L1279.0,537.5 L1279.8,514.2 L1280.6,539.2 L1281.4,511.0 L1281.6,510.5 L1282.2,521.1 L1283.0,522.1 L1283.8,549.2 L1284.6,529.3 L1285.4,555.4 L1286.2,565.2 L1286.9,535.2 L1287.0,570.0 L1287.8,543.0 L1288.6,572.6 L1289.4,547.5 L1290.2,573.2 L1291.0,556.5 L1291.5,576.2 L1291.8,560.7 L1292.6,584.7 L1293.4,558.8 L1294.2,567.2 L1295.0,589.4 L1295.8,585.5 L1296.0,590.6 L1296.6,573.5 L1297.4,580.8 L1298.2,563.3 L1299.0,563.1 L1299.8,574.1 L1300.6,556.4 L1301.4,571.3 L1302.1,552.4 L1302.2,566.3 L1303.0,550.4 L1303.8,565.8 L1304.6,554.0 L1305.4,566.3 L1306.2,555.1 L1306.8,547.2 L1307.0,570.3 L1307.8,554.0 L1308.6,572.6 L1309.4,555.9 L1310.2,560.1 L1311.0,578.9 L1311.8,560.6 L1312.2,591.2 L1312.6,570.6 L1313.4,588.2 L1314.2,563.1 L1315.0,592.0 L1315.8,567.1 L1316.6,591.4 L1317.4,600.3 L1318.2,563.4 L1319.0,574.1 L1319.8,574.1 L1320.6,578.6 L1321.4,600.7 L1322.2,604.3 L1323.0,579.1 L1323.8,585.5 L1324.3,625.8 L1324.6,588.6 L1325.4,587.9 L1326.2,593.7 L1327.0,607.9 L1327.8,593.0 L1328.6,602.5 L1329.4,592.0 L1330.2,607.5 L1330.4,597.7 L1331.0,606.8 L1331.8,594.9 L1332.6,605.6 L1333.4,596.5 L1334.2,606.9 L1335.0,601.3 L1335.8,597.5 L1336.6,615.1 L1337.4,601.6 L1338.2,617.3 L1339.0,599.8 L1339.5,618.5 L1339.8,595.9 L1340.6,596.7 L1341.4,618.4 L1342.2,598.0 L1343.0,621.6 L1343.8,613.5 L1344.6,597.7 L1345.4,622.7 L1346.2,599.0 L1347.0,623.2 L1347.8,598.2 L1348.6,622.8 L1349.4,596.3 L1350.2,622.2 L1351.0,600.5 L1351.8,621.4 L1352.6,599.1 L1353.4,619.2 L1354.2,601.6 L1355.0,595.3 L1355.8,616.0 L1356.6,599.5 L1357.4,590.7 L1357.7,614.7 L1358.2,591.8 L1359.0,611.7 L1359.8,591.1 L1360.6,612.0 L1361.4,613.6 L1362.2,611.7 L1363.0,588.7 L1363.8,607.9 L1364.6,584.9 L1365.3,584.3 L1365.4,599.1 L1366.2,580.0 L1367.0,588.2 L1367.8,600.5 L1368.6,578.2 L1369.4,597.7 L1370.2,606.0 L1371.0,581.3 L1371.8,603.7 L1372.6,583.1 L1373.4,602.1 L1374.2,579.3 L1374.4,577.6 L1375.0,583.9 L1375.8,578.5 L1376.6,580.2 L1377.4,581.3 L1378.2,599.6 L1379.0,583.0 L1379.8,592.3 L1380.6,609.3 L1381.4,585.4 L1382.2,589.9 L1383.0,611.6 L1383.6,613.7 L1383.8,605.7 L1384.6,612.4 L1385.4,610.0 L1386.2,591.0 L1387.0,610.2 L1387.8,597.0 L1388.6,606.8 L1389.4,592.7 L1390.2,610.3 L1391.0,609.9 L1391.8,586.8 L1392.6,609.8 L1392.7,590.6 L1393.4,602.3 L1394.2,591.8 L1395.0,609.2 L1395.8,582.0 L1396.6,577.3 L1397.4,575.2 L1398.2,594.7 L1399.0,574.9 L1399.8,573.5 L1400.3,591.3 L1400.6,601.0 L1401.4,597.6 L1402.2,596.2 L1403.0,590.2 L1403.8,586.5 L1404.6,566.0 L1405.4,585.1 L1406.2,562.7 L1406.4,573.7 L1407.0,560.5 L1407.8,577.5 L1408.6,555.7 L1409.4,579.0 L1410.2,555.9 L1411.0,568.2 L1411.8,551.5 L1412.6,573.2 L1413.2,550.2 L1413.4,568.2 L1414.2,557.9 L1415.0,556.0 L1415.8,580.2 L1416.6,583.3 L1417.4,568.8 L1418.2,587.9 L1419.0,589.4 L1419.8,571.4 L1420.0,590.7 L1420.6,570.6 L1421.4,593.3 L1422.2,597.6 L1423.0,578.2 L1423.8,601.8 L1424.6,582.6 L1425.4,613.4 L1426.1,619.5 L1426.2,618.9 L1427.0,584.4 L1427.8,616.1 L1428.6,595.0 L1429.4,594.8 L1430.2,616.5 L1431.0,587.1 L1431.8,620.8 L1432.6,617.2 L1433.4,599.6 L1433.7,610.1 L1434.2,587.7 L1435.0,612.4 L1435.8,590.5 L1436.6,621.1 L1437.4,594.2 L1438.2,615.8 L1439.0,590.0 L1439.8,621.8 L1440.6,598.5 L1441.3,622.8 L1441.4,590.0 L1442.2,612.1 L1443.0,600.5 L1443.8,618.6 L1444.6,614.3 L1445.4,595.9 L1446.2,608.3 L1447.0,592.5 L1447.8,618.2 L1448.6,587.8 L1449.4,607.7 L1450.2,588.9 L1450.4,586.7 L1451.0,610.1 L1451.8,589.9 L1452.6,613.0 L1453.4,592.5 L1454.2,594.5 L1455.0,614.1 L1455.8,598.2 L1456.6,620.4 L1457.4,601.9 L1458.0,627.3 L1458.2,608.7 L1459.0,624.7 L1459.8,608.2 L1460.6,617.0 L1461.4,634.9 L1462.2,623.6 L1463.0,600.6 L1463.8,612.1 L1464.6,597.2 L1465.4,621.8 L1466.2,598.6 L1467.0,616.5 L1467.1,593.8 L1467.8,616.9 L1468.6,598.5 L1469.4,615.5 L1470.2,613.4 L1471.0,586.5 L1471.8,609.0 L1472.6,603.1 L1473.4,590.5 L1474.2,605.9 L1475.0,583.9 L1475.8,602.7 L1476.6,584.6 L1477.4,600.6 L1478.2,601.0 L1478.7,578.6 L1479.0,597.5 L1479.8,572.4 L1480.6,599.8 L1481.4,570.5 L1482.2,570.4 L1483.0,576.1 L1483.8,589.4 L1484.6,571.5 L1484.8,573.6 L1485.4,596.5 L1486.2,592.0 L1487.0,589.5 L1487.8,564.6 L1488.6,576.1 L1489.4,566.5 L1489.5,544.0 L1490.2,550.0 L1490.8,528.8 L1491.0,530.7 L1491.8,539.2 L1492.5,563.1 L1492.6,545.2 L1493.4,571.5 L1494.2,565.1 L1495.0,581.9 L1495.4,573.2 L1495.8,569.1 L1496.6,571.9 L1497.4,595.6 L1498.2,602.3 L1499.0,578.0 L1499.8,603.8 L1500.6,580.3 L1501.4,585.3 L1501.5,618.8 L1502.2,588.3 L1503.0,591.8 L1503.8,605.8 L1504.6,585.6 L1505.4,593.9 L1506.2,614.4 L1507.0,589.2 L1507.8,588.6 L1508.6,614.0 L1509.1,589.5 L1509.4,615.8 L1510.2,587.7 L1511.0,615.6 L1511.8,592.5 L1512.6,609.0 L1513.4,595.0 L1514.2,607.2 L1515.0,585.0 L1515.1,612.0 L1515.8,584.9 L1516.6,576.0 L1517.4,570.4 L1518.2,595.0 L1519.0,564.6 L1519.7,581.2 L1519.8,563.2 L1520.6,576.5 L1521.4,550.0 L1522.2,556.9 L1523.0,532.1 L1523.5,545.4 L1523.8,528.2 L1524.6,538.8 L1525.4,521.7 L1526.2,528.0 L1526.5,512.1 L1527.0,515.3 L1527.8,534.8 L1528.6,519.7 L1529.4,542.8 L1530.2,531.5 L1530.3,545.9 L1531.0,536.8 L1531.8,560.3 L1532.6,543.3 L1533.4,565.7 L1534.2,551.9 L1534.9,577.0 L1535.0,555.0 L1535.8,578.6 L1536.6,565.4 L1537.4,582.8 L1538.2,567.6 L1539.0,591.3 L1539.8,590.9 L1540.2,594.5 L1540.6,578.7 L1541.4,591.3 L1542.2,568.5 L1543.0,587.7 L1543.8,563.4 L1544.6,586.6 L1545.4,558.7 L1545.5,586.8 L1546.2,557.7 L1547.0,554.6 L1547.8,570.8 L1548.6,552.4 L1549.4,549.4 L1550.1,554.4 L1550.2,542.4 L1551.0,558.1 L1551.8,539.7 L1552.6,541.4 L1553.4,555.6 L1554.2,539.7 L1555.0,558.2 L1555.4,534.1 L1555.8,557.6 L1556.6,541.4 L1557.4,567.4 L1558.2,551.6 L1559.0,573.7 L1559.8,555.7 L1560.6,576.2 L1560.7,563.3 L1561.4,581.9 L1562.2,570.6 L1563.0,591.6 L1563.8,574.1 L1564.6,604.9 L1565.3,585.8 L1565.4,607.3 L1566.2,583.7 L1567.0,612.5 L1567.8,584.2 L1568.6,611.9 L1569.4,589.6 L1570.2,617.5 L1571.0,621.3 L1571.4,587.5 L1571.8,612.7 L1572.6,618.1 L1573.4,600.1 L1574.2,626.6 L1575.0,602.6 L1575.8,617.8 L1576.6,600.3 L1577.4,599.8 L1578.2,601.6 L1579.0,601.9 L1579.8,628.2 L1580.5,634.0 L1580.6,606.1 L1581.4,629.8 L1582.2,626.6 L1583.0,610.9 L1583.8,624.3 L1584.6,603.2 L1585.4,628.6 L1586.2,602.4 L1587.0,606.1 L1587.8,604.6 L1588.6,620.9 L1589.4,602.6 L1589.6,601.0 L1590.2,603.7 L1591.0,622.0 L1591.8,605.4 L1592.6,626.7 L1593.4,626.6 L1594.2,605.7 L1595.0,629.1 L1595.8,609.4 L1596.6,622.6 L1597.4,607.6 L1598.2,628.5 L1598.7,631.0 L1599.0,630.4 L1599.8,626.6 L1600.6,607.8 L1601.4,621.6 L1602.2,604.5 L1603.0,622.2 L1603.8,608.0 L1604.6,623.7 L1605.4,606.6 L1606.2,617.6 L1607.0,607.7 L1607.8,617.0 L1608.6,605.2 L1609.4,617.8 L1610.2,602.2 L1611.0,618.0 L1611.8,602.2 L1612.6,599.5 L1613.4,614.1 L1614.2,601.6 L1615.0,613.0 L1615.8,591.5 L1616.6,595.5 L1616.9,590.3 L1617.4,600.7 L1618.2,611.9 L1619.0,593.4 L1619.8,615.8 L1620.6,595.1 L1621.4,619.9 L1622.2,604.8 L1623.0,620.8 L1623.8,601.6 L1624.6,622.0 L1625.4,603.7 L1626.0,603.4 L1626.2,600.2 L1627.0,602.0 L1627.8,624.7 L1628.6,609.5 L1629.4,623.4 L1630.2,605.2 L1631.0,627.1 L1631.8,608.6 L1632.6,633.1 L1633.4,609.3 L1633.6,634.0 L1634.2,605.0 L1635.0,633.2 L1635.8,603.8 L1636.6,629.5 L1637.4,610.3 L1638.2,609.4 L1639.0,629.7 L1639.8,615.8 L1640.6,629.0 L1641.4,592.6 L1642.2,632.4 L1643.0,612.6 L1643.8,631.5 L1644.6,613.5 L1645.4,611.2 L1646.2,610.9 L1647.0,628.7 L1647.8,615.0 L1648.6,630.2 L1649.4,614.5 L1649.8,626.9 L1650.2,614.0 L1651.0,628.2 L1651.8,606.8 L1652.6,625.4 L1653.4,620.6 L1654.2,601.8 L1655.0,625.8 L1655.8,594.1 L1656.6,598.0 L1657.4,624.5 L1658.2,594.8 L1659.0,620.0 L1659.8,599.1 L1660.6,625.0 L1661.4,602.4 L1662.2,617.3 L1663.0,597.3 L1663.8,630.3 L1664.6,598.6 L1665.4,631.5 L1666.2,597.2 L1666.5,631.8 L1667.0,605.7 L1667.8,622.8 L1668.6,602.9 L1669.4,625.7 L1670.2,603.0 L1671.0,630.0 L1671.8,600.0 L1672.6,631.0 L1673.4,628.5 L1674.2,630.1 L1675.0,625.1 L1675.8,608.9 L1676.6,623.8 L1677.1,610.9 L1677.4,620.1 L1678.2,603.6 L1679.0,602.2 L1679.8,628.7 L1680.6,602.4 L1681.4,632.2 L1682.2,606.5 L1683.0,633.3 L1683.8,607.1 L1684.6,631.5 L1685.4,623.6 L1686.2,601.5 L1687.0,633.2 L1687.8,611.5 L1688.6,627.5 L1689.4,612.1 L1690.2,627.6 L1691.0,610.4 L1691.8,629.5 L1692.6,611.4 L1693.4,630.4 L1694.2,617.9 L1695.0,635.2 L1695.3,618.9 L1695.8,637.7 L1696.6,616.1 L1697.4,635.3 L1698.2,622.2 L1699.0,639.1 L1699.8,639.6 L1700.6,618.2 L1701.4,636.6 L1702.2,619.4 L1702.9,639.4 L1703.0,622.0 L1703.8,637.7 L1704.6,616.8 L1705.4,633.6 L1706.2,610.3 L1707.0,624.4 L1707.8,598.8 L1708.6,600.2 L1709.4,597.4 L1710.2,619.2 L1710.5,592.5 L1711.0,627.3 L1711.8,591.2 L1712.6,623.6 L1713.4,591.8 L1714.2,618.2 L1715.0,596.6 L1715.8,626.4 L1716.6,587.2 L1717.4,624.5 L1718.1,590.6 L1718.2,608.8 L1719.0,588.3 L1719.8,610.2 L1720.6,602.8 L1721.4,580.3 L1722.2,596.2 L1722.7,566.0 L1723.0,589.0 L1723.8,572.9 L1724.6,592.7 L1725.4,569.1 L1726.2,569.1 L1727.0,600.8 L1727.8,571.3 L1728.6,594.1 L1729.4,576.9 L1729.5,592.3 L1730.2,572.1 L1731.0,607.6 L1731.8,578.6 L1732.6,578.5 L1733.4,609.4 L1734.2,586.4 L1735.0,611.8 L1735.8,587.1 L1736.4,614.1 L1736.6,587.7 L1737.4,616.7 L1738.2,597.4 L1739.0,616.2 L1739.8,602.6 L1740.6,603.3 L1741.4,624.1 L1742.2,635.5 L1742.4,614.3 L1743.0,625.7 L1743.8,612.9 L1744.6,617.5 L1745.4,635.3 L1746.2,613.5 L1747.0,636.3 L1747.8,636.7 L1748.6,616.3 L1749.4,634.6 L1750.2,635.5 L1751.0,606.8 L1751.5,632.6 L1751.8,608.4 L1752.6,637.3 L1753.4,607.7 L1754.2,613.0 L1755.0,635.1 L1755.8,607.6 L1756.6,636.6 L1757.4,615.9 L1758.2,634.3 L1759.0,614.7 L1759.8,637.6 L1760.6,614.4 L1761.4,638.5 L1762.2,609.4 L1763.0,630.1 L1763.8,614.2 L1764.6,639.4 L1765.4,622.2 L1766.2,631.0 L1767.0,615.4 L1767.8,637.7 L1768.6,617.1 L1769.4,635.8 L1770.2,622.4 L1771.0,636.8 L1771.8,618.8 L1772.6,639.2 L1772.8,640.9 L1773.4,639.0 L1774.2,617.8 L1775.0,640.9 L1775.8,640.0 L1776.6,620.8 L1777.4,633.4 L1778.2,622.2 L1779.0,636.0 L1779.8,639.3 L1780.6,617.7 L1781.4,630.7 L1781.9,612.4 L1782.2,629.5 L1783.0,636.2 L1783.8,617.7 L1784.6,623.2 L1785.4,641.1 L1786.2,616.2 L1787.0,642.9 L1787.8,626.4 L1788.0,645.3 L1788.6,644.9 L1789.4,623.6 L1790.2,638.9 L1791.0,613.8 L1791.8,632.2 L1792.6,617.4 L1793.4,631.2 L1794.2,625.7 L1795.0,611.9 L1795.8,633.9 L1796.6,597.1 L1797.1,598.7 L1797.4,608.1 L1798.2,627.7 L1799.0,605.0 L1799.8,630.5 L1800.6,609.2 L1801.4,630.4 L1802.2,622.8 L1803.0,631.4 L1803.8,621.9 L1804.6,635.6 L1805.4,624.6 L1806.2,633.8 L1807.0,638.3 L1807.8,622.0 L1808.6,634.6 L1809.4,636.6 L1810.2,622.8 L1811.0,645.0 L1811.4,644.3 L1811.8,641.9 L1812.6,618.5 L1813.4,635.8 L1814.2,612.6 L1815.0,611.4 L1815.8,617.5 L1816.6,637.4 L1817.4,612.4 L1818.2,632.1 L1819.0,618.4 L1819.8,634.5 L1820.6,609.7 L1821.1,609.8 L1821.4,611.8 L1822.2,632.7 L1823.0,616.2 L1823.8,632.7 L1824.6,616.2 L1825.4,634.1 L1826.2,640.8 L1827.0,615.3 L1827.8,641.4 L1828.6,620.7 L1828.9,643.3 L1829.4,620.3 L1830.2,642.1 L1831.0,619.5 L1831.8,618.6 L1832.6,617.6 L1833.4,642.0 L1834.2,616.1 L1835.0,641.2 L1835.8,619.2 L1836.6,621.4 L1837.4,639.7 L1838.2,617.6 L1838.6,632.4 L1839.0,618.3 L1839.8,640.9 L1840.6,623.3 L1841.4,642.9 L1842.2,617.2 L1843.0,639.9 L1843.8,617.6 L1844.6,614.2 L1845.4,641.2 L1846.2,614.2 L1846.4,622.3 L1847.0,635.3 L1847.8,642.1 L1848.6,615.1 L1849.4,612.1 L1850.2,642.1 L1851.0,632.3 L1851.8,635.7 L1852.6,609.1 L1853.4,635.7 L1854.2,641.6 L1855.0,631.6 L1855.8,606.4 L1856.1,606.3 L1856.6,631.6 L1857.4,612.2 L1858.2,636.0 L1859.0,615.4 L1859.8,642.8 L1860.6,607.2 L1861.4,609.2 L1862.2,643.2 L1863.0,601.7 L1863.8,642.6 L1864.6,606.1 L1865.4,614.7 L1866.2,641.8 L1867.0,633.2 L1867.8,605.5 L1868.6,641.1 L1869.4,614.2 L1869.7,599.1 L1870.2,612.8 L1871.0,636.9 L1871.8,607.5 L1872.6,631.1 L1873.4,599.0 L1874.2,645.7 L1875.0,603.8 L1875.8,644.6 L1876.6,604.3 L1877.4,600.2 L1878.2,638.8 L1879.0,605.6 L1879.5,642.4 L1879.8,618.5 L1880.6,616.0 L1881.4,641.2 L1882.2,610.7 L1883.0,636.3 L1883.8,623.0 L1884.6,637.6 L1885.4,622.6 L1886.2,645.3 L1887.0,643.1 L1887.2,629.6 L1887.8,643.5 L1888.6,627.3 L1889.4,647.8 L1890.2,617.3 L1891.0,645.7 L1891.8,618.1 L1892.6,637.6 L1893.1,609.8 L1893.4,642.7 L1894.2,614.7 L1895.0,642.0 L1895.8,622.7 L1896.6,616.8 L1897.4,625.6 L1898.2,645.1 L1899.0,618.9 L1899.8,619.8 L1900.6,641.3 L1901.4,626.4 L1902.2,648.0 L1902.8,653.1 L1903.0,647.7 L1903.8,622.0 L1904.6,647.0 L1905.4,624.8 L1906.2,617.4 L1907.0,642.7 L1907.8,648.4 L1908.6,618.2 L1909.4,642.0 L1909.6,607.8 L1910.2,608.9 L1911.0,647.2 L1911.8,622.7 L1912.6,647.7 L1913.4,613.7 L1914.2,635.4 L1915.0,641.5 L1915.8,618.8 L1916.6,645.2 L1917.4,648.6 L1918.2,618.7 L1919.0,644.6 L1919.8,630.4 L1920.3,638.9 L1920.6,649.8 L1921.4,630.7 L1922.2,649.6 L1923.0,630.2 L1923.8,648.0 L1924.6,626.6 L1925.4,649.7 L1926.2,621.4 L1927.0,649.9 L1927.8,622.3 L1928.6,644.0 L1929.4,651.1 L1930.2,622.9 L1931.0,627.8 L1931.5,650.0" fill="none" stroke="#EC5A5C" stroke-width="3.4" stroke-linejoin="round"/>
<path d="M281.60,589.10 L293.00,569.60 L304.40,589.10Z" fill="none" stroke="#FF0000" stroke-width="3.0" stroke-linejoin="miter"/>
<g fill="#FF7F00"><circle cx="537.90" cy="360.40" r="7.40"/><circle cx="528.50" cy="369.60" r="6.70"/><circle cx="547.30" cy="369.60" r="6.70"/><path d="M533.90,363.00 L541.90,363.00 L542.90,371.00 L532.90,371.00Z"/><path d="M536.60,369.00 C536.60,376.00 533.40,380.50 526.90,381.60 L526.90,383.00 L548.90,383.00 L548.90,381.60 C542.40,380.50 539.20,376.00 539.20,369.00Z"/></g>
<path d="M551.70,387.80a10.2,8.7 0 1,0 20.40,0a10.2,8.7 0 1,0 -20.40,0ZM557.00,387.80a4.9,5.3 0 1,0 9.80,0a4.9,5.3 0 1,0 -9.80,0Z" fill="#0000FF" fill-rule="evenodd"/>
<path d="M745.40,327.60a10.2,8.7 0 1,0 20.40,0a10.2,8.7 0 1,0 -20.40,0ZM750.70,327.60a4.9,5.3 0 1,0 9.80,0a4.9,5.3 0 1,0 -9.80,0Z" fill="#0000FF" fill-rule="evenodd"/>
<path d="M812.80,347.80a10.2,8.7 0 1,0 20.40,0a10.2,8.7 0 1,0 -20.40,0ZM818.10,347.80a4.9,5.3 0 1,0 9.80,0a4.9,5.3 0 1,0 -9.80,0Z" fill="#0000FF" fill-rule="evenodd"/>
<path d="M1149.10,440.00a10.2,8.7 0 1,0 20.40,0a10.2,8.7 0 1,0 -20.40,0ZM1154.40,440.00a4.9,5.3 0 1,0 9.80,0a4.9,5.3 0 1,0 -9.80,0Z" fill="#0000FF" fill-rule="evenodd"/>
<path d="M1268.80,490.90a10.2,8.7 0 1,0 20.40,0a10.2,8.7 0 1,0 -20.40,0ZM1274.10,490.90a4.9,5.3 0 1,0 9.80,0a4.9,5.3 0 1,0 -9.80,0Z" fill="#0000FF" fill-rule="evenodd"/>
<path d="M1517.10,489.90a10.2,8.7 0 1,0 20.40,0a10.2,8.7 0 1,0 -20.40,0ZM1522.40,489.90a4.9,5.3 0 1,0 9.80,0a4.9,5.3 0 1,0 -9.80,0Z" fill="#0000FF" fill-rule="evenodd"/>
<path d="M885.20,358.60 C888.20,365.60 897.20,369.10 897.20,376.10 C897.20,380.10 894.70,381.90 891.80,381.90 C889.20,381.90 887.20,380.60 886.20,378.60 C886.70,383.60 889.20,386.90 895.00,387.50 L895.00,388.60 L875.40,388.60 L875.40,387.50 C881.20,386.90 883.70,383.60 884.20,378.60 C883.20,380.60 881.20,381.90 878.60,381.90 C875.70,381.90 873.20,380.10 873.20,376.10 C873.20,369.10 882.20,365.60 885.20,358.60Z" fill="#8000FF"/>
<rect x="944.40" y="482.00" width="18.60" height="18.80" fill="none" stroke="#333333" stroke-width="1.8"/>
<rect x="1480.20" y="495.70" width="18.60" height="18.80" fill="none" stroke="#333333" stroke-width="1.8"/>
<path d="M292.10,975.50 L303.50,956.70 L314.90,975.50Z" fill="none" stroke="#FF0000" stroke-width="3.0" stroke-linejoin="miter"/>
<g fill="#FF7F00"><circle cx="542.10" cy="667.10" r="7.40"/><circle cx="532.70" cy="676.30" r="6.70"/><circle cx="551.50" cy="676.30" r="6.70"/><path d="M538.10,669.70 L546.10,669.70 L547.10,677.70 L537.10,677.70Z"/><path d="M540.80,675.70 C540.80,682.70 537.60,687.20 531.10,688.30 L531.10,689.70 L553.10,689.70 L553.10,688.30 C546.60,687.20 543.40,682.70 543.40,675.70Z"/></g>
<path d="M560.20,851.50a10.2,8.7 0 1,0 20.40,0a10.2,8.7 0 1,0 -20.40,0ZM565.50,851.50a4.9,5.3 0 1,0 9.80,0a4.9,5.3 0 1,0 -9.80,0Z" fill="#0000FF" fill-rule="evenodd"/>
<path d="M755.00,861.10a10.2,8.7 0 1,0 20.40,0a10.2,8.7 0 1,0 -20.40,0ZM760.30,861.10a4.9,5.3 0 1,0 9.80,0a4.9,5.3 0 1,0 -9.80,0Z" fill="#0000FF" fill-rule="evenodd"/>
<path d="M818.10,866.80a10.2,8.7 0 1,0 20.40,0a10.2,8.7 0 1,0 -20.40,0ZM823.40,866.80a4.9,5.3 0 1,0 9.80,0a4.9,5.3 0 1,0 -9.80,0Z" fill="#0000FF" fill-rule="evenodd"/>
<path d="M1150.20,975.60a10.2,8.7 0 1,0 20.40,0a10.2,8.7 0 1,0 -20.40,0ZM1155.50,975.60a4.9,5.3 0 1,0 9.80,0a4.9,5.3 0 1,0 -9.80,0Z" fill="#0000FF" fill-rule="evenodd"/>
<path d="M1275.70,1061.90a10.2,8.7 0 1,0 20.40,0a10.2,8.7 0 1,0 -20.40,0ZM1281.00,1061.90a4.9,5.3 0 1,0 9.80,0a4.9,5.3 0 1,0 -9.80,0Z" fill="#0000FF" fill-rule="evenodd"/>
<path d="M1519.80,1034.00a10.2,8.7 0 1,0 20.40,0a10.2,8.7 0 1,0 -20.40,0ZM1525.10,1034.00a4.9,5.3 0 1,0 9.80,0a4.9,5.3 0 1,0 -9.80,0Z" fill="#0000FF" fill-rule="evenodd"/>
<path d="M891.30,898.50 C894.30,905.50 903.30,909.00 903.30,916.00 C903.30,920.00 900.80,921.80 897.90,921.80 C895.30,921.80 893.30,920.50 892.30,918.50 C892.80,923.50 895.30,926.80 901.10,927.40 L901.10,928.50 L881.50,928.50 L881.50,927.40 C887.30,926.80 889.80,923.50 890.30,918.50 C889.30,920.50 887.30,921.80 884.70,921.80 C881.80,921.80 879.30,920.00 879.30,916.00 C879.30,909.00 888.30,905.50 891.30,898.50Z" fill="#8000FF"/>
<rect x="948.70" y="1073.40" width="18.60" height="18.80" fill="none" stroke="#333333" stroke-width="1.8"/>
<rect x="1484.30" y="1097.00" width="18.60" height="18.80" fill="none" stroke="#333333" stroke-width="1.8"/>
<rect x="762.00" y="70.70" width="18.80" height="18.40" fill="none" stroke="#4E2C7E" stroke-width="1.6"/>
<g fill="#FF7F00"><circle cx="1140.50" cy="74.30" r="7.40"/><circle cx="1131.10" cy="83.50" r="6.70"/><circle cx="1149.90" cy="83.50" r="6.70"/><path d="M1136.50,76.90 L1144.50,76.90 L1145.50,84.90 L1135.50,84.90Z"/><path d="M1139.20,82.90 C1139.20,89.90 1136.00,94.40 1129.50,95.50 L1129.50,96.90 L1151.50,96.90 L1151.50,95.50 C1145.00,94.40 1141.80,89.90 1141.80,82.90Z"/></g>
<path d="M1139.40,150.20 C1142.36,157.11 1151.24,160.56 1151.24,167.47 C1151.24,171.41 1148.77,173.19 1145.91,173.19 C1143.35,173.19 1141.37,171.91 1140.39,169.93 C1140.88,174.87 1143.35,178.12 1149.07,178.71 L1149.07,179.80 L1129.73,179.80 L1129.73,178.71 C1135.45,178.12 1137.92,174.87 1138.41,169.93 C1137.43,171.91 1135.45,173.19 1132.89,173.19 C1130.03,173.19 1127.56,171.41 1127.56,167.47 C1127.56,160.56 1136.44,157.11 1139.40,150.20Z" fill="#8000FF"/>
<path d="M1503.80,86.80a9.7,8.7 0 1,0 19.40,0a9.7,8.7 0 1,0 -19.40,0ZM1508.50,86.80a5.0,5.3 0 1,0 10.00,0a5.0,5.3 0 1,0 -10.00,0Z" fill="#1A78B8" fill-rule="evenodd"/>
<path d="M1500.30,179.50 L1510.90,160.30 L1521.50,179.50Z" fill="none" stroke="#FF0000" stroke-width="3.0" stroke-linejoin="miter"/>
<text transform="translate(188.9,1499) scale(0.99,1)" font-size="56" text-anchor="middle">10</text>
<text transform="translate(437.5,1499) scale(0.99,1)" font-size="56" text-anchor="middle">20</text>
<text transform="translate(686.0,1499) scale(0.99,1)" font-size="56" text-anchor="middle">30</text>
<text transform="translate(934.6,1499) scale(0.99,1)" font-size="56" text-anchor="middle">40</text>
<text transform="translate(1183.1,1499) scale(0.99,1)" font-size="56" text-anchor="middle">50</text>
<text transform="translate(1431.7,1499) scale(0.99,1)" font-size="56" text-anchor="middle">60</text>
<text transform="translate(1680.3,1499) scale(0.99,1)" font-size="56" text-anchor="middle">70</text>
<text transform="translate(1927,1499) scale(0.99,1)" font-size="56" text-anchor="middle">80</text>
<text transform="translate(1057,1607.4) scale(1.0345,1)" font-size="66" font-weight="bold" text-anchor="middle">2θ (degree)</text>
<text transform="translate(68.5,686.6) rotate(-90) scale(1.0335,1)" font-size="66" font-weight="bold" text-anchor="middle">Intensity (a.u.)</text>
<text transform="translate(1797.2,526.1) scale(0.975,1)" font-size="64" text-anchor="middle">Co-RM</text>
<text transform="translate(1811.8,1120.7) scale(0.975,1)" font-size="64" text-anchor="middle">RM</text>
<text transform="translate(816,96.1) scale(0.975,1)" font-size="64">AlO(OH)</text>
<text transform="translate(1186,97.6) scale(0.975,1)" font-size="64">SiO<tspan font-size="41" dy="16.3">2</tspan></text>
<text transform="translate(1189,185) scale(0.975,1)" font-size="64">FeO(OH)</text>
<text transform="translate(1548,104.3) scale(0.972,1)" font-size="64">Fe<tspan font-size="41" dy="16.3">2</tspan><tspan dy="-16.3">O</tspan><tspan font-size="41" dy="16.3">3</tspan></text>
<text transform="translate(1548,195.3) scale(0.972,1)" font-size="64">NaAlSi<tspan font-size="41" dy="16.3">3</tspan><tspan dy="-16.3">O</tspan><tspan font-size="41" dy="16.3">8</tspan></text>
</svg>
</body></html>
